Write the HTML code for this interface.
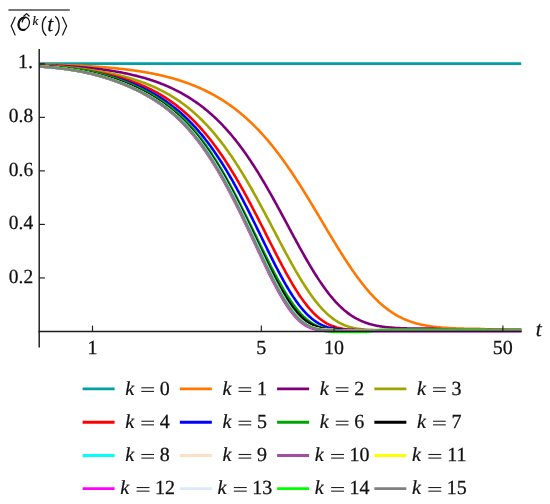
<!DOCTYPE html>
<html><head><meta charset="utf-8"><style>
html,body{margin:0;padding:0;background:#fff;}
svg{display:block;will-change:transform;}
text{font-family:"Liberation Serif",serif;font-size:20px;fill:#111;stroke:#111;stroke-width:0.25px;text-rendering:geometricPrecision;}
.it{font-style:italic;stroke:#111;stroke-width:0.22px;}
</style></head><body>
<svg width="550" height="504" viewBox="0 0 550 504">
<rect width="550" height="504" fill="#fff"/>
<g fill="none" stroke-width="2.6" stroke-linejoin="round" stroke-linecap="butt">
<path d="M39.6,63.6 L521.2,63.6" stroke="#00A0A4"/>
<path d="M39.6,64.54 L40.6,64.55 L41.6,64.57 L42.6,64.59 L43.6,64.61 L44.6,64.64 L45.6,64.66 L46.6,64.68 L47.6,64.70 L48.6,64.72 L49.6,64.75 L50.6,64.77 L51.6,64.80 L52.6,64.82 L53.6,64.85 L54.6,64.88 L55.6,64.90 L56.6,64.93 L57.6,64.96 L58.6,64.99 L59.6,65.02 L60.6,65.05 L61.6,65.08 L62.6,65.11 L63.6,65.14 L64.6,65.18 L65.6,65.21 L66.6,65.25 L67.6,65.28 L68.6,65.32 L69.6,65.36 L70.6,65.39 L71.6,65.43 L72.6,65.47 L73.6,65.51 L74.6,65.56 L75.6,65.60 L76.6,65.64 L77.6,65.69 L78.6,65.73 L79.6,65.78 L80.6,65.83 L81.6,65.87 L82.6,65.92 L83.6,65.97 L84.6,66.03 L85.6,66.08 L86.6,66.13 L87.6,66.19 L88.6,66.24 L89.6,66.30 L90.6,66.36 L91.6,66.42 L92.6,66.48 L93.6,66.54 L94.6,66.61 L95.6,66.67 L96.6,66.74 L97.6,66.81 L98.6,66.88 L99.6,66.95 L100.6,67.02 L101.6,67.09 L102.6,67.17 L103.6,67.25 L104.6,67.32 L105.6,67.40 L106.6,67.48 L107.6,67.57 L108.6,67.65 L109.6,67.74 L110.6,67.83 L111.6,67.92 L112.6,68.01 L113.6,68.10 L114.6,68.20 L115.6,68.30 L116.6,68.40 L117.6,68.50 L118.6,68.60 L119.6,68.71 L120.6,68.81 L121.6,68.92 L122.6,69.03 L123.6,69.15 L124.6,69.26 L125.6,69.38 L126.6,69.50 L127.6,69.63 L128.6,69.75 L129.6,69.88 L130.6,70.01 L131.6,70.14 L132.6,70.28 L133.6,70.42 L134.6,70.56 L135.6,70.70 L136.6,70.84 L137.6,70.99 L138.6,71.14 L139.6,71.30 L140.6,71.46 L141.6,71.62 L142.6,71.78 L143.6,71.94 L144.6,72.11 L145.6,72.29 L146.6,72.46 L147.6,72.64 L148.6,72.82 L149.6,73.01 L150.6,73.20 L151.6,73.39 L152.6,73.58 L153.6,73.78 L154.6,73.99 L155.6,74.19 L156.6,74.40 L157.6,74.62 L158.6,74.84 L159.6,75.06 L160.6,75.28 L161.6,75.51 L162.6,75.75 L163.6,75.99 L164.6,76.23 L165.6,76.47 L166.6,76.73 L167.6,76.98 L168.6,77.24 L169.6,77.51 L170.6,77.78 L171.6,78.05 L172.6,78.33 L173.6,78.61 L174.6,78.90 L175.6,79.19 L176.6,79.49 L177.6,79.80 L178.6,80.11 L179.6,80.42 L180.6,80.74 L181.6,81.07 L182.6,81.40 L183.6,81.73 L184.6,82.08 L185.6,82.42 L186.6,82.78 L187.6,83.14 L188.6,83.50 L189.6,83.88 L190.6,84.25 L191.6,84.64 L192.6,85.03 L193.6,85.43 L194.6,85.83 L195.6,86.24 L196.6,86.66 L197.6,87.08 L198.6,87.52 L199.6,87.95 L200.6,88.40 L201.6,88.85 L202.6,89.31 L203.6,89.78 L204.6,90.26 L205.6,90.74 L206.6,91.23 L207.6,91.73 L208.6,92.23 L209.6,92.75 L210.6,93.27 L211.6,93.80 L212.6,94.34 L213.6,94.89 L214.6,95.45 L215.6,96.01 L216.6,96.59 L217.6,97.17 L218.6,97.76 L219.6,98.36 L220.6,98.97 L221.6,99.59 L222.6,100.22 L223.6,100.86 L224.6,101.51 L225.6,102.17 L226.6,102.84 L227.6,103.52 L228.6,104.21 L229.6,104.91 L230.6,105.62 L231.6,106.34 L232.6,107.07 L233.6,107.81 L234.6,108.56 L235.6,109.32 L236.6,110.10 L237.6,110.88 L238.6,111.68 L239.6,112.49 L240.6,113.31 L241.6,114.14 L242.6,114.99 L243.6,115.84 L244.6,116.71 L245.6,117.59 L246.6,118.48 L247.6,119.38 L248.6,120.30 L249.6,121.23 L250.6,122.17 L251.6,123.13 L252.6,124.09 L253.6,125.08 L254.6,126.07 L255.6,127.08 L256.6,128.10 L257.6,129.13 L258.6,130.18 L259.6,131.24 L260.6,132.31 L261.6,133.40 L262.6,134.50 L263.6,135.61 L264.6,136.74 L265.6,137.89 L266.6,139.04 L267.6,140.21 L268.6,141.40 L269.6,142.59 L270.6,143.80 L271.6,145.03 L272.6,146.27 L273.6,147.52 L274.6,148.79 L275.6,150.07 L276.6,151.36 L277.6,152.67 L278.6,153.99 L279.6,155.32 L280.6,156.66 L281.6,158.02 L282.6,159.40 L283.6,160.78 L284.6,162.18 L285.6,163.59 L286.6,165.01 L287.6,166.45 L288.6,167.89 L289.6,169.35 L290.6,170.82 L291.6,172.31 L292.6,173.80 L293.6,175.30 L294.6,176.82 L295.6,178.35 L296.6,179.88 L297.6,181.43 L298.6,182.99 L299.6,184.55 L300.6,186.13 L301.6,187.71 L302.6,189.30 L303.6,190.91 L304.6,192.51 L305.6,194.13 L306.6,195.76 L307.6,197.39 L308.6,199.02 L309.6,200.67 L310.6,202.32 L311.6,203.97 L312.6,205.63 L313.6,207.29 L314.6,208.96 L315.6,210.63 L316.6,212.31 L317.6,213.99 L318.6,215.67 L319.6,217.35 L320.6,219.03 L321.6,220.71 L322.6,222.40 L323.6,224.08 L324.6,225.76 L325.6,227.44 L326.6,229.12 L327.6,230.80 L328.6,232.48 L329.6,234.15 L330.6,235.81 L331.6,237.48 L332.6,239.13 L333.6,240.79 L334.6,242.43 L335.6,244.07 L336.6,245.71 L337.6,247.33 L338.6,248.95 L339.6,250.56 L340.6,252.16 L341.6,253.74 L342.6,255.32 L343.6,256.89 L344.6,258.45 L345.6,259.99 L346.6,261.53 L347.6,263.05 L348.6,264.55 L349.6,266.05 L350.6,267.53 L351.6,268.99 L352.6,270.44 L353.6,271.87 L354.6,273.29 L355.6,274.69 L356.6,276.08 L357.6,277.45 L358.6,278.80 L359.6,280.13 L360.6,281.45 L361.6,282.74 L362.6,284.02 L363.6,285.28 L364.6,286.52 L365.6,287.74 L366.6,288.94 L367.6,290.12 L368.6,291.28 L369.6,292.42 L370.6,293.54 L371.6,294.64 L372.6,295.72 L373.6,296.78 L374.6,297.82 L375.6,298.83 L376.6,299.83 L377.6,300.80 L378.6,301.75 L379.6,302.68 L380.6,303.59 L381.6,304.48 L382.6,305.34 L383.6,306.19 L384.6,307.01 L385.6,307.81 L386.6,308.59 L387.6,309.35 L388.6,310.09 L389.6,310.81 L390.6,311.51 L391.6,312.18 L392.6,312.84 L393.6,313.48 L394.6,314.10 L395.6,314.70 L396.6,315.28 L397.6,315.84 L398.6,316.39 L399.6,316.91 L400.6,317.42 L401.6,317.91 L402.6,318.39 L403.6,318.84 L404.6,319.29 L405.6,319.71 L406.6,320.12 L407.6,320.52 L408.6,320.90 L409.6,321.27 L410.6,321.62 L411.6,321.96 L412.6,322.28 L413.6,322.59 L414.6,322.90 L415.6,323.18 L416.6,323.46 L417.6,323.73 L418.6,323.98 L419.6,324.22 L420.6,324.46 L421.6,324.68 L422.6,324.89 L423.6,325.10 L424.6,325.30 L425.6,325.48 L426.6,325.66 L427.6,325.83 L428.6,326.00 L429.6,326.15 L430.6,326.30 L431.6,326.44 L432.6,326.58 L433.6,326.71 L434.6,326.83 L435.6,326.95 L436.6,327.06 L437.6,327.17 L438.6,327.27 L439.6,327.37 L440.6,327.46 L441.6,327.55 L442.6,327.63 L443.6,327.71 L444.6,327.78 L445.6,327.86 L446.6,327.92 L447.6,327.99 L448.6,328.05 L449.6,328.11 L450.6,328.16 L451.6,328.22 L452.6,328.27 L453.6,328.31 L454.6,328.36 L455.6,328.40 L456.6,328.44 L457.6,328.48 L458.6,328.51 L459.6,328.55 L460.6,328.58 L461.6,328.61 L462.6,328.64 L463.6,328.66 L464.6,328.69 L465.6,328.71 L466.6,328.73 L467.6,328.75 L468.6,328.77 L469.6,328.79 L470.6,328.81 L471.6,328.82 L472.6,328.83 L473.6,328.85 L474.6,328.86 L475.6,328.87 L476.6,328.87 L477.6,328.88 L478.6,328.89 L479.6,328.89 L480.6,328.93 L481.6,328.99 L482.6,329.04 L483.6,329.09 L484.6,329.13 L485.6,329.18 L486.6,329.22 L487.6,329.26 L488.6,329.29 L489.6,329.33 L490.6,329.36 L491.6,329.39 L492.6,329.42 L493.6,329.45 L494.6,329.47 L495.6,329.50 L496.6,329.52 L497.6,329.54 L498.6,329.56 L499.6,329.58 L500.6,329.59 L501.6,329.61 L502.6,329.62 L503.6,329.64 L504.6,329.65 L505.6,329.66 L506.6,329.67 L507.6,329.68 L508.6,329.69 L509.6,329.70 L510.6,329.71 L511.6,329.72 L512.6,329.72 L513.6,329.73 L514.6,329.73 L515.6,329.74 L516.6,329.74 L517.6,329.75 L518.6,329.75 L519.6,329.76 L520.6,329.76 L521.4,329.76" stroke="#FF7600"/>
<path d="M39.6,64.90 L40.6,64.93 L41.6,64.97 L42.6,65.00 L43.6,65.04 L44.6,65.08 L45.6,65.11 L46.6,65.15 L47.6,65.19 L48.6,65.23 L49.6,65.27 L50.6,65.32 L51.6,65.36 L52.6,65.40 L53.6,65.45 L54.6,65.50 L55.6,65.54 L56.6,65.59 L57.6,65.64 L58.6,65.69 L59.6,65.75 L60.6,65.80 L61.6,65.86 L62.6,65.91 L63.6,65.97 L64.6,66.03 L65.6,66.09 L66.6,66.15 L67.6,66.22 L68.6,66.28 L69.6,66.35 L70.6,66.41 L71.6,66.48 L72.6,66.55 L73.6,66.63 L74.6,66.70 L75.6,66.78 L76.6,66.85 L77.6,66.93 L78.6,67.01 L79.6,67.09 L80.6,67.18 L81.6,67.26 L82.6,67.35 L83.6,67.44 L84.6,67.53 L85.6,67.63 L86.6,67.72 L87.6,67.82 L88.6,67.92 L89.6,68.02 L90.6,68.12 L91.6,68.23 L92.6,68.34 L93.6,68.45 L94.6,68.56 L95.6,68.67 L96.6,68.79 L97.6,68.91 L98.6,69.03 L99.6,69.15 L100.6,69.28 L101.6,69.41 L102.6,69.54 L103.6,69.67 L104.6,69.81 L105.6,69.95 L106.6,70.09 L107.6,70.24 L108.6,70.38 L109.6,70.53 L110.6,70.69 L111.6,70.84 L112.6,71.00 L113.6,71.17 L114.6,71.33 L115.6,71.50 L116.6,71.67 L117.6,71.85 L118.6,72.03 L119.6,72.21 L120.6,72.39 L121.6,72.58 L122.6,72.78 L123.6,72.97 L124.6,73.17 L125.6,73.38 L126.6,73.58 L127.6,73.79 L128.6,74.01 L129.6,74.23 L130.6,74.45 L131.6,74.68 L132.6,74.91 L133.6,75.15 L134.6,75.39 L135.6,75.63 L136.6,75.88 L137.6,76.14 L138.6,76.40 L139.6,76.66 L140.6,76.93 L141.6,77.20 L142.6,77.48 L143.6,77.76 L144.6,78.05 L145.6,78.35 L146.6,78.65 L147.6,78.95 L148.6,79.26 L149.6,79.58 L150.6,79.90 L151.6,80.22 L152.6,80.56 L153.6,80.90 L154.6,81.24 L155.6,81.59 L156.6,81.95 L157.6,82.31 L158.6,82.69 L159.6,83.06 L160.6,83.45 L161.6,83.84 L162.6,84.23 L163.6,84.64 L164.6,85.05 L165.6,85.47 L166.6,85.89 L167.6,86.32 L168.6,86.76 L169.6,87.21 L170.6,87.67 L171.6,88.13 L172.6,88.60 L173.6,89.08 L174.6,89.57 L175.6,90.07 L176.6,90.57 L177.6,91.08 L178.6,91.60 L179.6,92.13 L180.6,92.67 L181.6,93.22 L182.6,93.78 L183.6,94.35 L184.6,94.92 L185.6,95.51 L186.6,96.10 L187.6,96.71 L188.6,97.32 L189.6,97.95 L190.6,98.58 L191.6,99.23 L192.6,99.89 L193.6,100.55 L194.6,101.23 L195.6,101.92 L196.6,102.62 L197.6,103.33 L198.6,104.05 L199.6,104.79 L200.6,105.53 L201.6,106.29 L202.6,107.06 L203.6,107.84 L204.6,108.64 L205.6,109.44 L206.6,110.26 L207.6,111.10 L208.6,111.94 L209.6,112.80 L210.6,113.67 L211.6,114.55 L212.6,115.45 L213.6,116.36 L214.6,117.29 L215.6,118.23 L216.6,119.18 L217.6,120.15 L218.6,121.13 L219.6,122.13 L220.6,123.14 L221.6,124.17 L222.6,125.21 L223.6,126.27 L224.6,127.34 L225.6,128.43 L226.6,129.53 L227.6,130.65 L228.6,131.78 L229.6,132.93 L230.6,134.10 L231.6,135.28 L232.6,136.48 L233.6,137.70 L234.6,138.93 L235.6,140.18 L236.6,141.44 L237.6,142.73 L238.6,144.03 L239.6,145.34 L240.6,146.67 L241.6,148.02 L242.6,149.39 L243.6,150.77 L244.6,152.17 L245.6,153.58 L246.6,155.02 L247.6,156.46 L248.6,157.93 L249.6,159.41 L250.6,160.90 L251.6,162.42 L252.6,163.94 L253.6,165.49 L254.6,167.05 L255.6,168.62 L256.6,170.21 L257.6,171.81 L258.6,173.43 L259.6,175.07 L260.6,176.71 L261.6,178.37 L262.6,180.05 L263.6,181.74 L264.6,183.44 L265.6,185.15 L266.6,186.87 L267.6,188.61 L268.6,190.36 L269.6,192.12 L270.6,193.89 L271.6,195.66 L272.6,197.45 L273.6,199.25 L274.6,201.06 L275.6,202.87 L276.6,204.70 L277.6,206.53 L278.6,208.36 L279.6,210.20 L280.6,212.05 L281.6,213.90 L282.6,215.76 L283.6,217.62 L284.6,219.48 L285.6,221.35 L286.6,223.21 L287.6,225.08 L288.6,226.95 L289.6,228.81 L290.6,230.68 L291.6,232.54 L292.6,234.40 L293.6,236.26 L294.6,238.11 L295.6,239.96 L296.6,241.80 L297.6,243.64 L298.6,245.47 L299.6,247.29 L300.6,249.10 L301.6,250.90 L302.6,252.69 L303.6,254.48 L304.6,256.24 L305.6,258.00 L306.6,259.75 L307.6,261.48 L308.6,263.19 L309.6,264.89 L310.6,266.57 L311.6,268.24 L312.6,269.89 L313.6,271.52 L314.6,273.14 L315.6,274.73 L316.6,276.30 L317.6,277.86 L318.6,279.39 L319.6,280.90 L320.6,282.39 L321.6,283.85 L322.6,285.29 L323.6,286.71 L324.6,288.11 L325.6,289.48 L326.6,290.82 L327.6,292.14 L328.6,293.44 L329.6,294.70 L330.6,295.95 L331.6,297.16 L332.6,298.35 L333.6,299.52 L334.6,300.65 L335.6,301.76 L336.6,302.84 L337.6,303.89 L338.6,304.92 L339.6,305.91 L340.6,306.88 L341.6,307.82 L342.6,308.73 L343.6,309.62 L344.6,310.48 L345.6,311.30 L346.6,312.10 L347.6,312.88 L348.6,313.63 L349.6,314.35 L350.6,315.04 L351.6,315.71 L352.6,316.35 L353.6,316.97 L354.6,317.57 L355.6,318.14 L356.6,318.69 L357.6,319.21 L358.6,319.71 L359.6,320.19 L360.6,320.65 L361.6,321.09 L362.6,321.51 L363.6,321.91 L364.6,322.30 L365.6,322.66 L366.6,323.01 L367.6,323.34 L368.6,323.65 L369.6,323.95 L370.6,324.23 L371.6,324.50 L372.6,324.76 L373.6,325.00 L374.6,325.23 L375.6,325.45 L376.6,325.66 L377.6,325.85 L378.6,326.04 L379.6,326.21 L380.6,326.37 L381.6,326.53 L382.6,326.68 L383.6,326.81 L384.6,326.94 L385.6,327.07 L386.6,327.18 L387.6,327.29 L388.6,327.39 L389.6,327.49 L390.6,327.58 L391.6,327.66 L392.6,327.74 L393.6,327.82 L394.6,327.89 L395.6,327.95 L396.6,328.01 L397.6,328.07 L398.6,328.12 L399.6,328.17 L400.6,328.21 L401.6,328.25 L402.6,328.29 L403.6,328.32 L404.6,328.35 L405.6,328.38 L406.6,328.41 L407.6,328.43 L408.6,328.45 L409.6,328.46 L410.6,328.48 L411.6,328.49 L412.6,328.50 L413.6,328.50 L414.6,328.51 L415.6,328.51 L416.6,328.51 L417.6,328.51 L418.6,328.51 L419.6,328.51 L420.6,328.51 L421.6,328.51 L422.6,328.51 L423.6,328.51 L424.6,328.51 L425.6,328.51 L426.6,328.51 L427.6,328.51 L428.6,328.51 L429.6,328.51 L430.6,328.51 L431.6,328.57 L432.6,328.65 L433.6,328.73 L434.6,328.80 L435.6,328.87 L436.6,328.93 L437.6,328.99 L438.6,329.05 L439.6,329.10 L440.6,329.15 L441.6,329.20 L442.6,329.25 L443.6,329.29 L444.6,329.33 L445.6,329.37 L446.6,329.41 L447.6,329.44 L448.6,329.47 L449.6,329.50 L450.6,329.53 L451.6,329.56 L452.6,329.58 L453.6,329.61 L454.6,329.63 L455.6,329.65 L456.6,329.67 L457.6,329.69 L458.6,329.70 L459.6,329.72 L460.6,329.73 L461.6,329.75 L462.6,329.76 L463.6,329.77 L464.6,329.78 L465.6,329.79 L466.6,329.80 L467.6,329.81 L468.6,329.82 L469.6,329.82 L470.6,329.83 L471.6,329.84 L472.6,329.84 L473.6,329.85 L474.6,329.85 L475.6,329.86 L476.6,329.86 L477.6,329.86 L478.6,329.87 L479.6,329.87 L480.6,329.87 L481.6,329.88 L482.6,329.88 L483.6,329.88 L484.6,329.88 L485.6,329.88 L486.6,329.89 L487.6,329.89 L488.6,329.89 L489.6,329.89 L490.6,329.89 L491.6,329.89 L492.6,329.89 L493.6,329.89 L494.6,329.89 L495.6,329.89 L496.6,329.89 L497.6,329.89 L498.6,329.89 L499.6,329.90 L500.6,329.90 L501.6,329.90 L502.6,329.90 L503.6,329.90 L504.6,329.90 L505.6,329.90 L506.6,329.90 L507.6,329.90 L508.6,329.90 L509.6,329.90 L510.6,329.90 L511.6,329.90 L512.6,329.90 L513.6,329.90 L514.6,329.90 L515.6,329.90 L516.6,329.90 L517.6,329.90 L518.6,329.90 L519.6,329.90 L520.6,329.90 L521.4,329.90" stroke="#7D007A"/>
<path d="M39.6,65.17 L40.6,65.23 L41.6,65.28 L42.6,65.34 L43.6,65.40 L44.6,65.46 L45.6,65.52 L46.6,65.58 L47.6,65.65 L48.6,65.71 L49.6,65.78 L50.6,65.85 L51.6,65.92 L52.6,66.00 L53.6,66.07 L54.6,66.15 L55.6,66.22 L56.6,66.30 L57.6,66.39 L58.6,66.47 L59.6,66.55 L60.6,66.64 L61.6,66.73 L62.6,66.82 L63.6,66.91 L64.6,67.00 L65.6,67.10 L66.6,67.20 L67.6,67.30 L68.6,67.40 L69.6,67.50 L70.6,67.60 L71.6,67.71 L72.6,67.82 L73.6,67.93 L74.6,68.04 L75.6,68.15 L76.6,68.27 L77.6,68.39 L78.6,68.51 L79.6,68.63 L80.6,68.75 L81.6,68.88 L82.6,69.00 L83.6,69.13 L84.6,69.27 L85.6,69.40 L86.6,69.54 L87.6,69.67 L88.6,69.81 L89.6,69.96 L90.6,70.10 L91.6,70.25 L92.6,70.40 L93.6,70.55 L94.6,70.70 L95.6,70.86 L96.6,71.02 L97.6,71.18 L98.6,71.34 L99.6,71.51 L100.6,71.68 L101.6,71.85 L102.6,72.02 L103.6,72.20 L104.6,72.38 L105.6,72.57 L106.6,72.75 L107.6,72.94 L108.6,73.14 L109.6,73.33 L110.6,73.53 L111.6,73.74 L112.6,73.94 L113.6,74.15 L114.6,74.37 L115.6,74.59 L116.6,74.81 L117.6,75.04 L118.6,75.27 L119.6,75.51 L120.6,75.75 L121.6,75.99 L122.6,76.24 L123.6,76.50 L124.6,76.76 L125.6,77.02 L126.6,77.29 L127.6,77.57 L128.6,77.84 L129.6,78.13 L130.6,78.42 L131.6,78.72 L132.6,79.02 L133.6,79.32 L134.6,79.63 L135.6,79.95 L136.6,80.28 L137.6,80.61 L138.6,80.94 L139.6,81.28 L140.6,81.63 L141.6,81.99 L142.6,82.35 L143.6,82.72 L144.6,83.09 L145.6,83.47 L146.6,83.86 L147.6,84.26 L148.6,84.66 L149.6,85.07 L150.6,85.49 L151.6,85.91 L152.6,86.34 L153.6,86.78 L154.6,87.23 L155.6,87.69 L156.6,88.15 L157.6,88.62 L158.6,89.11 L159.6,89.59 L160.6,90.09 L161.6,90.60 L162.6,91.12 L163.6,91.64 L164.6,92.17 L165.6,92.72 L166.6,93.27 L167.6,93.83 L168.6,94.40 L169.6,94.99 L170.6,95.58 L171.6,96.18 L172.6,96.79 L173.6,97.42 L174.6,98.05 L175.6,98.70 L176.6,99.35 L177.6,100.02 L178.6,100.70 L179.6,101.39 L180.6,102.09 L181.6,102.80 L182.6,103.52 L183.6,104.26 L184.6,105.01 L185.6,105.77 L186.6,106.55 L187.6,107.33 L188.6,108.13 L189.6,108.94 L190.6,109.77 L191.6,110.61 L192.6,111.46 L193.6,112.33 L194.6,113.21 L195.6,114.10 L196.6,115.01 L197.6,115.93 L198.6,116.87 L199.6,117.82 L200.6,118.79 L201.6,119.77 L202.6,120.77 L203.6,121.78 L204.6,122.80 L205.6,123.84 L206.6,124.90 L207.6,125.97 L208.6,127.06 L209.6,128.16 L210.6,129.28 L211.6,130.42 L212.6,131.57 L213.6,132.74 L214.6,133.92 L215.6,135.12 L216.6,136.34 L217.6,137.57 L218.6,138.82 L219.6,140.08 L220.6,141.36 L221.6,142.66 L222.6,143.98 L223.6,145.31 L224.6,146.65 L225.6,148.02 L226.6,149.40 L227.6,150.80 L228.6,152.21 L229.6,153.64 L230.6,155.09 L231.6,156.55 L232.6,158.03 L233.6,159.52 L234.6,161.03 L235.6,162.56 L236.6,164.10 L237.6,165.66 L238.6,167.23 L239.6,168.82 L240.6,170.43 L241.6,172.05 L242.6,173.68 L243.6,175.33 L244.6,176.99 L245.6,178.67 L246.6,180.36 L247.6,182.06 L248.6,183.78 L249.6,185.51 L250.6,187.25 L251.6,189.01 L252.6,190.78 L253.6,192.56 L254.6,194.35 L255.6,196.15 L256.6,197.96 L257.6,199.78 L258.6,201.61 L259.6,203.45 L260.6,205.29 L261.6,207.15 L262.6,209.01 L263.6,210.88 L264.6,212.76 L265.6,214.64 L266.6,216.53 L267.6,218.42 L268.6,220.31 L269.6,222.21 L270.6,224.11 L271.6,226.02 L272.6,227.92 L273.6,229.83 L274.6,231.74 L275.6,233.64 L276.6,235.55 L277.6,237.45 L278.6,239.35 L279.6,241.25 L280.6,243.14 L281.6,245.03 L282.6,246.91 L283.6,248.79 L284.6,250.66 L285.6,252.53 L286.6,254.38 L287.6,256.23 L288.6,258.07 L289.6,259.89 L290.6,261.71 L291.6,263.51 L292.6,265.30 L293.6,267.08 L294.6,268.84 L295.6,270.59 L296.6,272.32 L297.6,274.03 L298.6,275.73 L299.6,277.41 L300.6,279.07 L301.6,280.71 L302.6,282.32 L303.6,283.92 L304.6,285.49 L305.6,287.05 L306.6,288.57 L307.6,290.08 L308.6,291.56 L309.6,293.01 L310.6,294.44 L311.6,295.84 L312.6,297.21 L313.6,298.56 L314.6,299.87 L315.6,301.16 L316.6,302.42 L317.6,303.65 L318.6,304.85 L319.6,306.02 L320.6,307.16 L321.6,308.26 L322.6,309.34 L323.6,310.39 L324.6,311.40 L325.6,312.38 L326.6,313.33 L327.6,314.25 L328.6,315.13 L329.6,315.99 L330.6,316.81 L331.6,317.60 L332.6,318.36 L333.6,319.09 L334.6,319.79 L335.6,320.46 L336.6,321.10 L337.6,321.71 L338.6,322.29 L339.6,322.85 L340.6,323.37 L341.6,323.87 L342.6,324.34 L343.6,324.79 L344.6,325.21 L345.6,325.60 L346.6,325.97 L347.6,326.32 L348.6,326.64 L349.6,326.95 L350.6,327.23 L351.6,327.49 L352.6,327.73 L353.6,327.96 L354.6,328.16 L355.6,328.36 L356.6,328.53 L357.6,328.69 L358.6,328.84 L359.6,328.98 L360.6,329.10 L361.6,329.21 L362.6,329.31 L363.6,329.40 L364.6,329.49 L365.6,329.56 L366.6,329.63 L367.6,329.69 L368.6,329.74 L369.6,329.79 L370.6,329.83 L371.6,329.87 L372.6,329.90 L373.6,329.93 L374.6,329.96 L375.6,329.98 L376.6,330.00 L377.6,330.02 L378.6,330.03 L379.6,330.04 L380.6,330.05 L381.6,330.06 L382.6,330.07 L383.6,330.08 L384.6,330.08 L385.6,330.09 L386.6,330.09 L387.6,330.10 L388.6,330.10 L389.6,330.10 L390.6,330.10 L391.6,330.11 L392.6,330.11 L393.6,330.11 L394.6,330.11 L395.6,330.11 L396.6,330.11 L397.6,330.11 L398.6,330.11 L399.6,330.11 L400.6,330.11 L401.6,330.11 L402.6,330.11 L403.6,330.11 L404.6,330.11 L405.6,330.11 L406.6,330.11 L407.6,330.11 L408.6,330.11 L409.6,330.11 L410.6,330.11 L411.6,330.11 L412.6,330.11 L413.6,330.11 L414.6,330.11 L415.6,330.11 L416.6,330.11 L417.6,330.11 L418.6,330.11 L419.6,330.11 L420.6,330.11 L421.6,330.11 L422.6,330.11 L423.6,330.11 L424.6,330.11 L425.6,330.11 L426.6,330.11 L427.6,330.11 L428.6,330.11 L429.6,330.11 L430.6,330.11 L431.6,330.11 L432.6,330.11 L433.6,330.11 L434.6,330.11 L435.6,330.11 L436.6,330.11 L437.6,330.11 L438.6,330.11 L439.6,330.11 L440.6,330.11 L441.6,330.11 L442.6,330.11 L443.6,330.11 L444.6,330.11 L445.6,330.11 L446.6,330.11 L447.6,330.11 L448.6,330.11 L449.6,330.11 L450.6,330.11 L451.6,330.11 L452.6,330.11 L453.6,330.11 L454.6,330.11 L455.6,330.11 L456.6,330.11 L457.6,330.11 L458.6,330.11 L459.6,330.11 L460.6,330.11 L461.6,330.11 L462.6,330.11 L463.6,330.11 L464.6,330.11 L465.6,330.11 L466.6,330.11 L467.6,330.11 L468.6,330.11 L469.6,330.11 L470.6,330.11 L471.6,330.11 L472.6,330.11 L473.6,330.11 L474.6,330.11 L475.6,330.11 L476.6,330.11 L477.6,330.11 L478.6,330.11 L479.6,330.11 L480.6,330.11 L481.6,330.11 L482.6,330.11 L483.6,330.11 L484.6,330.11 L485.6,330.11 L486.6,330.11 L487.6,330.11 L488.6,330.11 L489.6,330.11 L490.6,330.11 L491.6,330.11 L492.6,330.11 L493.6,330.11 L494.6,330.11 L495.6,330.11 L496.6,330.11 L497.6,330.11 L498.6,330.11 L499.6,330.11 L500.6,330.11 L501.6,330.11 L502.6,330.11 L503.6,330.11 L504.6,330.11 L505.6,330.11 L506.6,330.11 L507.6,330.11 L508.6,330.11 L509.6,330.11 L510.6,330.11 L511.6,330.11 L512.6,330.11 L513.6,330.11 L514.6,330.11 L515.6,330.11 L516.6,330.11 L517.6,330.11 L518.6,330.11 L519.6,330.11 L520.6,330.11 L521.4,330.11" stroke="#A0A300"/>
<path d="M39.6,65.47 L40.6,65.54 L41.6,65.61 L42.6,65.68 L43.6,65.75 L44.6,65.82 L45.6,65.89 L46.6,65.97 L47.6,66.05 L48.6,66.13 L49.6,66.21 L50.6,66.29 L51.6,66.38 L52.6,66.47 L53.6,66.56 L54.6,66.65 L55.6,66.74 L56.6,66.84 L57.6,66.93 L58.6,67.03 L59.6,67.13 L60.6,67.24 L61.6,67.34 L62.6,67.45 L63.6,67.56 L64.6,67.67 L65.6,67.78 L66.6,67.89 L67.6,68.01 L68.6,68.13 L69.6,68.25 L70.6,68.37 L71.6,68.49 L72.6,68.62 L73.6,68.75 L74.6,68.88 L75.6,69.01 L76.6,69.14 L77.6,69.28 L78.6,69.42 L79.6,69.56 L80.6,69.70 L81.6,69.85 L82.6,69.99 L83.6,70.14 L84.6,70.30 L85.6,70.45 L86.6,70.61 L87.6,70.77 L88.6,70.93 L89.6,71.09 L90.6,71.26 L91.6,71.43 L92.6,71.60 L93.6,71.77 L94.6,71.95 L95.6,72.13 L96.6,72.31 L97.6,72.50 L98.6,72.68 L99.6,72.88 L100.6,73.07 L101.6,73.27 L102.6,73.47 L103.6,73.68 L104.6,73.89 L105.6,74.10 L106.6,74.31 L107.6,74.54 L108.6,74.76 L109.6,74.99 L110.6,75.22 L111.6,75.46 L112.6,75.70 L113.6,75.95 L114.6,76.20 L115.6,76.46 L116.6,76.72 L117.6,76.99 L118.6,77.26 L119.6,77.54 L120.6,77.82 L121.6,78.11 L122.6,78.40 L123.6,78.70 L124.6,79.00 L125.6,79.32 L126.6,79.63 L127.6,79.95 L128.6,80.28 L129.6,80.62 L130.6,80.96 L131.6,81.31 L132.6,81.66 L133.6,82.02 L134.6,82.39 L135.6,82.77 L136.6,83.15 L137.6,83.54 L138.6,83.93 L139.6,84.33 L140.6,84.75 L141.6,85.16 L142.6,85.59 L143.6,86.02 L144.6,86.46 L145.6,86.91 L146.6,87.37 L147.6,87.84 L148.6,88.31 L149.6,88.80 L150.6,89.29 L151.6,89.79 L152.6,90.30 L153.6,90.82 L154.6,91.34 L155.6,91.88 L156.6,92.43 L157.6,92.99 L158.6,93.55 L159.6,94.13 L160.6,94.71 L161.6,95.31 L162.6,95.92 L163.6,96.53 L164.6,97.16 L165.6,97.80 L166.6,98.45 L167.6,99.11 L168.6,99.78 L169.6,100.47 L170.6,101.16 L171.6,101.87 L172.6,102.59 L173.6,103.32 L174.6,104.06 L175.6,104.81 L176.6,105.58 L177.6,106.36 L178.6,107.15 L179.6,107.95 L180.6,108.77 L181.6,109.60 L182.6,110.45 L183.6,111.30 L184.6,112.18 L185.6,113.06 L186.6,113.96 L187.6,114.87 L188.6,115.80 L189.6,116.74 L190.6,117.69 L191.6,118.66 L192.6,119.65 L193.6,120.65 L194.6,121.66 L195.6,122.69 L196.6,123.74 L197.6,124.80 L198.6,125.87 L199.6,126.96 L200.6,128.07 L201.6,129.19 L202.6,130.33 L203.6,131.48 L204.6,132.65 L205.6,133.84 L206.6,135.04 L207.6,136.26 L208.6,137.50 L209.6,138.75 L210.6,140.02 L211.6,141.31 L212.6,142.61 L213.6,143.93 L214.6,145.27 L215.6,146.62 L216.6,147.99 L217.6,149.38 L218.6,150.78 L219.6,152.20 L220.6,153.64 L221.6,155.10 L222.6,156.57 L223.6,158.06 L224.6,159.56 L225.6,161.09 L226.6,162.62 L227.6,164.18 L228.6,165.75 L229.6,167.34 L230.6,168.95 L231.6,170.57 L232.6,172.21 L233.6,173.86 L234.6,175.53 L235.6,177.21 L236.6,178.91 L237.6,180.63 L238.6,182.36 L239.6,184.11 L240.6,185.86 L241.6,187.64 L242.6,189.43 L243.6,191.23 L244.6,193.04 L245.6,194.87 L246.6,196.71 L247.6,198.56 L248.6,200.42 L249.6,202.29 L250.6,204.18 L251.6,206.07 L252.6,207.98 L253.6,209.89 L254.6,211.81 L255.6,213.75 L256.6,215.68 L257.6,217.63 L258.6,219.58 L259.6,221.54 L260.6,223.50 L261.6,225.47 L262.6,227.44 L263.6,229.42 L264.6,231.40 L265.6,233.38 L266.6,235.36 L267.6,237.34 L268.6,239.32 L269.6,241.30 L270.6,243.27 L271.6,245.25 L272.6,247.22 L273.6,249.18 L274.6,251.14 L275.6,253.09 L276.6,255.04 L277.6,256.97 L278.6,258.90 L279.6,260.82 L280.6,262.72 L281.6,264.62 L282.6,266.50 L283.6,268.36 L284.6,270.21 L285.6,272.05 L286.6,273.86 L287.6,275.66 L288.6,277.44 L289.6,279.20 L290.6,280.94 L291.6,282.65 L292.6,284.34 L293.6,286.01 L294.6,287.65 L295.6,289.27 L296.6,290.86 L297.6,292.42 L298.6,293.96 L299.6,295.46 L300.6,296.94 L301.6,298.38 L302.6,299.79 L303.6,301.17 L304.6,302.52 L305.6,303.83 L306.6,305.11 L307.6,306.36 L308.6,307.57 L309.6,308.75 L310.6,309.89 L311.6,310.99 L312.6,312.06 L313.6,313.09 L314.6,314.09 L315.6,315.05 L316.6,315.97 L317.6,316.86 L318.6,317.71 L319.6,318.53 L320.6,319.31 L321.6,320.06 L322.6,320.77 L323.6,321.45 L324.6,322.09 L325.6,322.70 L326.6,323.27 L327.6,323.81 L328.6,324.32 L329.6,324.80 L330.6,325.26 L331.6,325.68 L332.6,326.07 L333.6,326.44 L334.6,326.78 L335.6,327.10 L336.6,327.40 L337.6,327.67 L338.6,327.92 L339.6,328.16 L340.6,328.37 L341.6,328.56 L342.6,328.74 L343.6,328.91 L344.6,329.06 L345.6,329.19 L346.6,329.31 L347.6,329.42 L348.6,329.52 L349.6,329.61 L350.6,329.69 L351.6,329.76 L352.6,329.83 L353.6,329.88 L354.6,329.93 L355.6,329.98 L356.6,330.01 L357.6,330.05 L358.6,330.08 L359.6,330.10 L360.6,330.12 L361.6,330.14 L362.6,330.16 L363.6,330.17 L364.6,330.19 L365.6,330.20 L366.6,330.20 L367.6,330.21 L368.6,330.22 L369.6,330.22 L370.6,330.23 L371.6,330.23 L372.6,330.23 L373.6,330.24 L374.6,330.24 L375.6,330.24 L376.6,330.24 L377.6,330.24 L378.6,330.24 L379.6,330.24 L380.6,330.24 L381.6,330.24 L382.6,330.24 L383.6,330.25 L384.6,330.25 L385.6,330.25 L386.6,330.25 L387.6,330.25 L388.6,330.25 L389.6,330.25 L390.6,330.25 L391.6,330.25 L392.6,330.25 L393.6,330.25 L394.6,330.25 L395.6,330.25 L396.6,330.25 L397.6,330.25 L398.6,330.25 L399.6,330.25 L400.6,330.25 L401.6,330.25 L402.6,330.25 L403.6,330.25 L404.6,330.25 L405.6,330.25 L406.6,330.25 L407.6,330.25 L408.6,330.25 L409.6,330.25 L410.6,330.25 L411.6,330.25 L412.6,330.25 L413.6,330.25 L414.6,330.25 L415.6,330.25 L416.6,330.25 L417.6,330.25 L418.6,330.25 L419.6,330.25 L420.6,330.25 L421.6,330.25 L422.6,330.25 L423.6,330.25 L424.6,330.25 L425.6,330.25 L426.6,330.25 L427.6,330.25 L428.6,330.25 L429.6,330.25 L430.6,330.25 L431.6,330.25 L432.6,330.25 L433.6,330.25 L434.6,330.25 L435.6,330.25 L436.6,330.25 L437.6,330.25 L438.6,330.25 L439.6,330.25 L440.6,330.25 L441.6,330.25 L442.6,330.25 L443.6,330.25 L444.6,330.25 L445.6,330.25 L446.6,330.25 L447.6,330.25 L448.6,330.25 L449.6,330.25 L450.6,330.25 L451.6,330.25 L452.6,330.25 L453.6,330.25 L454.6,330.25 L455.6,330.25 L456.6,330.25 L457.6,330.25 L458.6,330.25 L459.6,330.25 L460.6,330.25 L461.6,330.25 L462.6,330.25 L463.6,330.25 L464.6,330.25 L465.6,330.25 L466.6,330.25 L467.6,330.25 L468.6,330.25 L469.6,330.25 L470.6,330.25 L471.6,330.25 L472.6,330.25 L473.6,330.25 L474.6,330.25 L475.6,330.25 L476.6,330.25 L477.6,330.25 L478.6,330.25 L479.6,330.25 L480.6,330.25 L481.6,330.25 L482.6,330.25 L483.6,330.25 L484.6,330.25 L485.6,330.25 L486.6,330.25 L487.6,330.25 L488.6,330.25 L489.6,330.25 L490.6,330.25 L491.6,330.25 L492.6,330.25 L493.6,330.25 L494.6,330.25 L495.6,330.25 L496.6,330.25 L497.6,330.25 L498.6,330.25 L499.6,330.25 L500.6,330.25 L501.6,330.25 L502.6,330.25 L503.6,330.25 L504.6,330.25 L505.6,330.25 L506.6,330.25 L507.6,330.25 L508.6,330.25 L509.6,330.25 L510.6,330.25 L511.6,330.25 L512.6,330.25 L513.6,330.25 L514.6,330.25 L515.6,330.25 L516.6,330.25 L517.6,330.25 L518.6,330.25 L519.6,330.25 L520.6,330.25 L521.4,330.25" stroke="#FF0000"/>
<path d="M39.6,65.78 L40.6,65.84 L41.6,65.91 L42.6,65.98 L43.6,66.05 L44.6,66.12 L45.6,66.20 L46.6,66.27 L47.6,66.35 L48.6,66.43 L49.6,66.52 L50.6,66.60 L51.6,66.69 L52.6,66.77 L53.6,66.86 L54.6,66.96 L55.6,67.05 L56.6,67.15 L57.6,67.25 L58.6,67.35 L59.6,67.45 L60.6,67.55 L61.6,67.66 L62.6,67.77 L63.6,67.88 L64.6,68.00 L65.6,68.11 L66.6,68.23 L67.6,68.35 L68.6,68.48 L69.6,68.60 L70.6,68.73 L71.6,68.86 L72.6,69.00 L73.6,69.13 L74.6,69.27 L75.6,69.42 L76.6,69.56 L77.6,69.71 L78.6,69.86 L79.6,70.01 L80.6,70.17 L81.6,70.32 L82.6,70.49 L83.6,70.65 L84.6,70.82 L85.6,70.99 L86.6,71.16 L87.6,71.34 L88.6,71.52 L89.6,71.70 L90.6,71.89 L91.6,72.08 L92.6,72.28 L93.6,72.47 L94.6,72.67 L95.6,72.88 L96.6,73.09 L97.6,73.30 L98.6,73.51 L99.6,73.73 L100.6,73.96 L101.6,74.18 L102.6,74.42 L103.6,74.65 L104.6,74.89 L105.6,75.14 L106.6,75.38 L107.6,75.64 L108.6,75.90 L109.6,76.16 L110.6,76.42 L111.6,76.70 L112.6,76.97 L113.6,77.26 L114.6,77.54 L115.6,77.83 L116.6,78.13 L117.6,78.43 L118.6,78.74 L119.6,79.06 L120.6,79.37 L121.6,79.70 L122.6,80.03 L123.6,80.36 L124.6,80.71 L125.6,81.05 L126.6,81.41 L127.6,81.77 L128.6,82.13 L129.6,82.51 L130.6,82.89 L131.6,83.27 L132.6,83.66 L133.6,84.06 L134.6,84.47 L135.6,84.88 L136.6,85.30 L137.6,85.73 L138.6,86.16 L139.6,86.60 L140.6,87.05 L141.6,87.51 L142.6,87.97 L143.6,88.45 L144.6,88.93 L145.6,89.42 L146.6,89.91 L147.6,90.42 L148.6,90.93 L149.6,91.46 L150.6,91.99 L151.6,92.53 L152.6,93.08 L153.6,93.64 L154.6,94.21 L155.6,94.78 L156.6,95.37 L157.6,95.97 L158.6,96.58 L159.6,97.19 L160.6,97.82 L161.6,98.46 L162.6,99.11 L163.6,99.77 L164.6,100.44 L165.6,101.12 L166.6,101.82 L167.6,102.52 L168.6,103.24 L169.6,103.97 L170.6,104.71 L171.6,105.46 L172.6,106.23 L173.6,107.01 L174.6,107.80 L175.6,108.60 L176.6,109.42 L177.6,110.25 L178.6,111.10 L179.6,111.96 L180.6,112.83 L181.6,113.72 L182.6,114.62 L183.6,115.53 L184.6,116.47 L185.6,117.41 L186.6,118.37 L187.6,119.35 L188.6,120.34 L189.6,121.35 L190.6,122.37 L191.6,123.41 L192.6,124.46 L193.6,125.53 L194.6,126.62 L195.6,127.72 L196.6,128.84 L197.6,129.98 L198.6,131.13 L199.6,132.31 L200.6,133.49 L201.6,134.70 L202.6,135.92 L203.6,137.16 L204.6,138.42 L205.6,139.70 L206.6,140.99 L207.6,142.30 L208.6,143.63 L209.6,144.98 L210.6,146.34 L211.6,147.73 L212.6,149.13 L213.6,150.55 L214.6,151.99 L215.6,153.44 L216.6,154.92 L217.6,156.41 L218.6,157.92 L219.6,159.45 L220.6,161.00 L221.6,162.57 L222.6,164.16 L223.6,165.76 L224.6,167.38 L225.6,169.02 L226.6,170.68 L227.6,172.35 L228.6,174.04 L229.6,175.75 L230.6,177.48 L231.6,179.22 L232.6,180.98 L233.6,182.76 L234.6,184.55 L235.6,186.36 L236.6,188.18 L237.6,190.02 L238.6,191.88 L239.6,193.75 L240.6,195.63 L241.6,197.53 L242.6,199.44 L243.6,201.36 L244.6,203.30 L245.6,205.25 L246.6,207.21 L247.6,209.18 L248.6,211.16 L249.6,213.15 L250.6,215.15 L251.6,217.16 L252.6,219.17 L253.6,221.20 L254.6,223.23 L255.6,225.26 L256.6,227.30 L257.6,229.35 L258.6,231.39 L259.6,233.44 L260.6,235.49 L261.6,237.55 L262.6,239.60 L263.6,241.65 L264.6,243.70 L265.6,245.74 L266.6,247.78 L267.6,249.82 L268.6,251.85 L269.6,253.87 L270.6,255.89 L271.6,257.89 L272.6,259.88 L273.6,261.87 L274.6,263.84 L275.6,265.79 L276.6,267.73 L277.6,269.66 L278.6,271.57 L279.6,273.46 L280.6,275.33 L281.6,277.18 L282.6,279.00 L283.6,280.81 L284.6,282.59 L285.6,284.34 L286.6,286.07 L287.6,287.77 L288.6,289.45 L289.6,291.09 L290.6,292.71 L291.6,294.29 L292.6,295.84 L293.6,297.36 L294.6,298.84 L295.6,300.29 L296.6,301.71 L297.6,303.09 L298.6,304.43 L299.6,305.74 L300.6,307.01 L301.6,308.24 L302.6,309.43 L303.6,310.59 L304.6,311.71 L305.6,312.78 L306.6,313.82 L307.6,314.82 L308.6,315.78 L309.6,316.70 L310.6,317.59 L311.6,318.43 L312.6,319.24 L313.6,320.01 L314.6,320.74 L315.6,321.44 L316.6,322.10 L317.6,322.72 L318.6,323.31 L319.6,323.87 L320.6,324.39 L321.6,324.88 L322.6,325.34 L323.6,325.76 L324.6,326.16 L325.6,326.53 L326.6,326.88 L327.6,327.20 L328.6,327.50 L329.6,327.77 L330.6,328.02 L331.6,328.25 L332.6,328.46 L333.6,328.65 L334.6,328.83 L335.6,328.99 L336.6,329.13 L337.6,329.26 L338.6,329.38 L339.6,329.49 L340.6,329.58 L341.6,329.67 L342.6,329.74 L343.6,329.81 L344.6,329.87 L345.6,329.92 L346.6,329.97 L347.6,330.01 L348.6,330.04 L349.6,330.07 L350.6,330.10 L351.6,330.12 L352.6,330.14 L353.6,330.16 L354.6,330.17 L355.6,330.19 L356.6,330.20 L357.6,330.21 L358.6,330.21 L359.6,330.22 L360.6,330.22 L361.6,330.23 L362.6,330.23 L363.6,330.23 L364.6,330.24 L365.6,330.24 L366.6,330.24 L367.6,330.24 L368.6,330.24 L369.6,330.24 L370.6,330.24 L371.6,330.24 L372.6,330.24 L373.6,330.24 L374.6,330.25 L375.6,330.25 L376.6,330.25 L377.6,330.25 L378.6,330.25 L379.6,330.25 L380.6,330.25 L381.6,330.25 L382.6,330.25 L383.6,330.25 L384.6,330.25 L385.6,330.25 L386.6,330.25 L387.6,330.25 L388.6,330.25 L389.6,330.25 L390.6,330.25 L391.6,330.25 L392.6,330.25 L393.6,330.25 L394.6,330.25 L395.6,330.25 L396.6,330.25 L397.6,330.25 L398.6,330.25 L399.6,330.25 L400.6,330.25 L401.6,330.25 L402.6,330.25 L403.6,330.25 L404.6,330.25 L405.6,330.25 L406.6,330.25 L407.6,330.25 L408.6,330.25 L409.6,330.25 L410.6,330.25 L411.6,330.25 L412.6,330.25 L413.6,330.25 L414.6,330.25 L415.6,330.25 L416.6,330.25 L417.6,330.25 L418.6,330.25 L419.6,330.25 L420.6,330.25 L421.6,330.25 L422.6,330.25 L423.6,330.25 L424.6,330.25 L425.6,330.25 L426.6,330.25 L427.6,330.25 L428.6,330.25 L429.6,330.25 L430.6,330.25 L431.6,330.25 L432.6,330.25 L433.6,330.25 L434.6,330.25 L435.6,330.25 L436.6,330.25 L437.6,330.25 L438.6,330.25 L439.6,330.25 L440.6,330.25 L441.6,330.25 L442.6,330.25 L443.6,330.25 L444.6,330.25 L445.6,330.25 L446.6,330.25 L447.6,330.25 L448.6,330.25 L449.6,330.25 L450.6,330.25 L451.6,330.25 L452.6,330.25 L453.6,330.25 L454.6,330.25 L455.6,330.25 L456.6,330.25 L457.6,330.25 L458.6,330.25 L459.6,330.25 L460.6,330.25 L461.6,330.25 L462.6,330.25 L463.6,330.25 L464.6,330.25 L465.6,330.25 L466.6,330.25 L467.6,330.25 L468.6,330.25 L469.6,330.25 L470.6,330.25 L471.6,330.25 L472.6,330.25 L473.6,330.25 L474.6,330.25 L475.6,330.25 L476.6,330.25 L477.6,330.25 L478.6,330.25 L479.6,330.25 L480.6,330.25 L481.6,330.25 L482.6,330.25 L483.6,330.25 L484.6,330.25 L485.6,330.25 L486.6,330.25 L487.6,330.25 L488.6,330.25 L489.6,330.25 L490.6,330.25 L491.6,330.25 L492.6,330.25 L493.6,330.25 L494.6,330.25 L495.6,330.25 L496.6,330.25 L497.6,330.25 L498.6,330.25 L499.6,330.25 L500.6,330.25 L501.6,330.25 L502.6,330.25 L503.6,330.25 L504.6,330.25 L505.6,330.25 L506.6,330.25 L507.6,330.25 L508.6,330.25 L509.6,330.25 L510.6,330.25 L511.6,330.25 L512.6,330.25 L513.6,330.25 L514.6,330.25 L515.6,330.25 L516.6,330.25 L517.6,330.25 L518.6,330.25 L519.6,330.25 L520.6,330.25 L521.4,330.25" stroke="#0000FF"/>
<path d="M39.6,65.99 L40.6,66.03 L41.6,66.07 L42.6,66.12 L43.6,66.17 L44.6,66.22 L45.6,66.27 L46.6,66.33 L47.6,66.38 L48.6,66.44 L49.6,66.50 L50.6,66.57 L51.6,66.63 L52.6,66.70 L53.6,66.77 L54.6,66.84 L55.6,66.91 L56.6,66.99 L57.6,67.07 L58.6,67.15 L59.6,67.24 L60.6,67.32 L61.6,67.41 L62.6,67.51 L63.6,67.60 L64.6,67.70 L65.6,67.81 L66.6,67.91 L67.6,68.02 L68.6,68.13 L69.6,68.25 L70.6,68.37 L71.6,68.49 L72.6,68.62 L73.6,68.75 L74.6,68.89 L75.6,69.03 L76.6,69.17 L77.6,69.32 L78.6,69.47 L79.6,69.62 L80.6,69.78 L81.6,69.95 L82.6,70.12 L83.6,70.29 L84.6,70.47 L85.6,70.65 L86.6,70.84 L87.6,71.04 L88.6,71.23 L89.6,71.44 L90.6,71.65 L91.6,71.86 L92.6,72.08 L93.6,72.30 L94.6,72.53 L95.6,72.77 L96.6,73.01 L97.6,73.25 L98.6,73.50 L99.6,73.76 L100.6,74.02 L101.6,74.28 L102.6,74.55 L103.6,74.83 L104.6,75.11 L105.6,75.40 L106.6,75.69 L107.6,75.98 L108.6,76.29 L109.6,76.59 L110.6,76.90 L111.6,77.22 L112.6,77.54 L113.6,77.86 L114.6,78.19 L115.6,78.53 L116.6,78.87 L117.6,79.22 L118.6,79.57 L119.6,79.92 L120.6,80.29 L121.6,80.65 L122.6,81.02 L123.6,81.40 L124.6,81.79 L125.6,82.18 L126.6,82.57 L127.6,82.97 L128.6,83.38 L129.6,83.79 L130.6,84.21 L131.6,84.63 L132.6,85.06 L133.6,85.50 L134.6,85.95 L135.6,86.39 L136.6,86.85 L137.6,87.31 L138.6,87.78 L139.6,88.26 L140.6,88.74 L141.6,89.24 L142.6,89.73 L143.6,90.24 L144.6,90.75 L145.6,91.27 L146.6,91.80 L147.6,92.34 L148.6,92.88 L149.6,93.44 L150.6,94.00 L151.6,94.57 L152.6,95.15 L153.6,95.74 L154.6,96.33 L155.6,96.94 L156.6,97.56 L157.6,98.18 L158.6,98.82 L159.6,99.47 L160.6,100.12 L161.6,100.79 L162.6,101.47 L163.6,102.16 L164.6,102.86 L165.6,103.58 L166.6,104.31 L167.6,105.05 L168.6,105.80 L169.6,106.56 L170.6,107.34 L171.6,108.13 L172.6,108.94 L173.6,109.76 L174.6,110.60 L175.6,111.45 L176.6,112.32 L177.6,113.20 L178.6,114.10 L179.6,115.02 L180.6,115.95 L181.6,116.90 L182.6,117.86 L183.6,118.85 L184.6,119.84 L185.6,120.86 L186.6,121.89 L187.6,122.95 L188.6,124.02 L189.6,125.10 L190.6,126.21 L191.6,127.33 L192.6,128.47 L193.6,129.63 L194.6,130.81 L195.6,132.01 L196.6,133.23 L197.6,134.47 L198.6,135.72 L199.6,137.00 L200.6,138.29 L201.6,139.60 L202.6,140.94 L203.6,142.29 L204.6,143.66 L205.6,145.06 L206.6,146.47 L207.6,147.90 L208.6,149.35 L209.6,150.82 L210.6,152.31 L211.6,153.82 L212.6,155.35 L213.6,156.90 L214.6,158.47 L215.6,160.06 L216.6,161.66 L217.6,163.29 L218.6,164.94 L219.6,166.60 L220.6,168.28 L221.6,169.98 L222.6,171.70 L223.6,173.43 L224.6,175.19 L225.6,176.96 L226.6,178.74 L227.6,180.54 L228.6,182.36 L229.6,184.20 L230.6,186.05 L231.6,187.91 L232.6,189.79 L233.6,191.68 L234.6,193.59 L235.6,195.51 L236.6,197.44 L237.6,199.38 L238.6,201.33 L239.6,203.29 L240.6,205.26 L241.6,207.25 L242.6,209.24 L243.6,211.23 L244.6,213.24 L245.6,215.25 L246.6,217.27 L247.6,219.29 L248.6,221.32 L249.6,223.35 L250.6,225.39 L251.6,227.43 L252.6,229.47 L253.6,231.51 L254.6,233.56 L255.6,235.60 L256.6,237.65 L257.6,239.70 L258.6,241.74 L259.6,243.78 L260.6,245.82 L261.6,247.85 L262.6,249.88 L263.6,251.91 L264.6,253.92 L265.6,255.93 L266.6,257.93 L267.6,259.92 L268.6,261.90 L269.6,263.87 L270.6,265.83 L271.6,267.77 L272.6,269.70 L273.6,271.61 L274.6,273.51 L275.6,275.39 L276.6,277.25 L277.6,279.09 L278.6,280.90 L279.6,282.70 L280.6,284.47 L281.6,286.22 L282.6,287.95 L283.6,289.64 L284.6,291.31 L285.6,292.96 L286.6,294.57 L287.6,296.15 L288.6,297.70 L289.6,299.22 L290.6,300.70 L291.6,302.15 L292.6,303.56 L293.6,304.94 L294.6,306.28 L295.6,307.58 L296.6,308.85 L297.6,310.08 L298.6,311.26 L299.6,312.41 L300.6,313.52 L301.6,314.59 L302.6,315.61 L303.6,316.60 L304.6,317.54 L305.6,318.45 L306.6,319.31 L307.6,320.13 L308.6,320.91 L309.6,321.65 L310.6,322.35 L311.6,323.01 L312.6,323.63 L313.6,324.20 L314.6,324.74 L315.6,325.25 L316.6,325.71 L317.6,326.15 L318.6,326.55 L319.6,326.92 L320.6,327.26 L321.6,327.57 L322.6,327.86 L323.6,328.12 L324.6,328.36 L325.6,328.58 L326.6,328.78 L327.6,328.95 L328.6,329.11 L329.6,329.26 L330.6,329.38 L331.6,329.50 L332.6,329.60 L333.6,329.69 L334.6,329.77 L335.6,329.84 L336.6,329.90 L337.6,329.95 L338.6,329.99 L339.6,330.03 L340.6,330.07 L341.6,330.10 L342.6,330.12 L343.6,330.14 L344.6,330.16 L345.6,330.18 L346.6,330.19 L347.6,330.20 L348.6,330.21 L349.6,330.22 L350.6,330.22 L351.6,330.23 L352.6,330.23 L353.6,330.23 L354.6,330.24 L355.6,330.24 L356.6,330.24 L357.6,330.24 L358.6,330.24 L359.6,330.24 L360.6,330.24 L361.6,330.24 L362.6,330.24 L363.6,330.25 L364.6,330.25 L365.6,330.25 L366.6,330.25 L367.6,330.25 L368.6,330.25 L369.6,330.25 L370.6,330.25 L371.6,330.25 L372.6,330.25 L373.6,330.25 L374.6,330.25 L375.6,330.25 L376.6,330.25 L377.6,330.25 L378.6,330.25 L379.6,330.25 L380.6,330.25 L381.6,330.25 L382.6,330.25 L383.6,330.25 L384.6,330.25 L385.6,330.25 L386.6,330.25 L387.6,330.25 L388.6,330.25 L389.6,330.25 L390.6,330.25 L391.6,330.25 L392.6,330.25 L393.6,330.25 L394.6,330.25 L395.6,330.25 L396.6,330.25 L397.6,330.25 L398.6,330.25 L399.6,330.25 L400.6,330.25 L401.6,330.25 L402.6,330.25 L403.6,330.25 L404.6,330.25 L405.6,330.25 L406.6,330.25 L407.6,330.25 L408.6,330.25 L409.6,330.25 L410.6,330.25 L411.6,330.25 L412.6,330.25 L413.6,330.25 L414.6,330.25 L415.6,330.25 L416.6,330.25 L417.6,330.25 L418.6,330.25 L419.6,330.25 L420.6,330.25 L421.6,330.25 L422.6,330.25 L423.6,330.25 L424.6,330.25 L425.6,330.25 L426.6,330.25 L427.6,330.25 L428.6,330.25 L429.6,330.25 L430.6,330.25 L431.6,330.25 L432.6,330.25 L433.6,330.25 L434.6,330.25 L435.6,330.25 L436.6,330.25 L437.6,330.25 L438.6,330.25 L439.6,330.25 L440.6,330.25 L441.6,330.25 L442.6,330.25 L443.6,330.25 L444.6,330.25 L445.6,330.25 L446.6,330.25 L447.6,330.25 L448.6,330.25 L449.6,330.25 L450.6,330.25 L451.6,330.25 L452.6,330.25 L453.6,330.25 L454.6,330.25 L455.6,330.25 L456.6,330.25 L457.6,330.25 L458.6,330.25 L459.6,330.25 L460.6,330.25 L461.6,330.25 L462.6,330.25 L463.6,330.25 L464.6,330.25 L465.6,330.25 L466.6,330.25 L467.6,330.25 L468.6,330.25 L469.6,330.25 L470.6,330.25 L471.6,330.25 L472.6,330.25 L473.6,330.25 L474.6,330.25 L475.6,330.25 L476.6,330.25 L477.6,330.25 L478.6,330.25 L479.6,330.25 L480.6,330.25 L481.6,330.25 L482.6,330.25 L483.6,330.25 L484.6,330.25 L485.6,330.25 L486.6,330.25 L487.6,330.25 L488.6,330.25 L489.6,330.25 L490.6,330.25 L491.6,330.25 L492.6,330.25 L493.6,330.25 L494.6,330.25 L495.6,330.25 L496.6,330.25 L497.6,330.25 L498.6,330.25 L499.6,330.25 L500.6,330.25 L501.6,330.25 L502.6,330.25 L503.6,330.25 L504.6,330.25 L505.6,330.25 L506.6,330.25 L507.6,330.25 L508.6,330.25 L509.6,330.25 L510.6,330.25 L511.6,330.25 L512.6,330.25 L513.6,330.25 L514.6,330.25 L515.6,330.25 L516.6,330.25 L517.6,330.25 L518.6,330.25 L519.6,330.25 L520.6,330.25 L521.4,330.25" stroke="#00A300"/>
<path d="M39.6,66.18 L40.6,66.24 L41.6,66.31 L42.6,66.38 L43.6,66.45 L44.6,66.52 L45.6,66.60 L46.6,66.67 L47.6,66.75 L48.6,66.83 L49.6,66.91 L50.6,67.00 L51.6,67.09 L52.6,67.18 L53.6,67.27 L54.6,67.36 L55.6,67.46 L56.6,67.56 L57.6,67.66 L58.6,67.76 L59.6,67.87 L60.6,67.98 L61.6,68.09 L62.6,68.21 L63.6,68.33 L64.6,68.45 L65.6,68.57 L66.6,68.70 L67.6,68.83 L68.6,68.96 L69.6,69.10 L70.6,69.24 L71.6,69.39 L72.6,69.53 L73.6,69.68 L74.6,69.84 L75.6,69.99 L76.6,70.15 L77.6,70.32 L78.6,70.49 L79.6,70.66 L80.6,70.84 L81.6,71.02 L82.6,71.20 L83.6,71.39 L84.6,71.58 L85.6,71.78 L86.6,71.98 L87.6,72.18 L88.6,72.39 L89.6,72.60 L90.6,72.82 L91.6,73.04 L92.6,73.27 L93.6,73.50 L94.6,73.74 L95.6,73.98 L96.6,74.22 L97.6,74.47 L98.6,74.72 L99.6,74.98 L100.6,75.25 L101.6,75.51 L102.6,75.79 L103.6,76.06 L104.6,76.35 L105.6,76.63 L106.6,76.93 L107.6,77.22 L108.6,77.52 L109.6,77.83 L110.6,78.14 L111.6,78.46 L112.6,78.78 L113.6,79.11 L114.6,79.44 L115.6,79.78 L116.6,80.12 L117.6,80.47 L118.6,80.82 L119.6,81.18 L120.6,81.54 L121.6,81.92 L122.6,82.29 L123.6,82.67 L124.6,83.06 L125.6,83.46 L126.6,83.86 L127.6,84.26 L128.6,84.68 L129.6,85.10 L130.6,85.52 L131.6,85.95 L132.6,86.39 L133.6,86.84 L134.6,87.29 L135.6,87.75 L136.6,88.22 L137.6,88.69 L138.6,89.17 L139.6,89.66 L140.6,90.16 L141.6,90.66 L142.6,91.17 L143.6,91.69 L144.6,92.22 L145.6,92.76 L146.6,93.30 L147.6,93.85 L148.6,94.41 L149.6,94.99 L150.6,95.56 L151.6,96.15 L152.6,96.75 L153.6,97.36 L154.6,97.98 L155.6,98.60 L156.6,99.24 L157.6,99.89 L158.6,100.54 L159.6,101.21 L160.6,101.89 L161.6,102.58 L162.6,103.28 L163.6,104.00 L164.6,104.72 L165.6,105.46 L166.6,106.21 L167.6,106.97 L168.6,107.74 L169.6,108.53 L170.6,109.33 L171.6,110.14 L172.6,110.97 L173.6,111.81 L174.6,112.67 L175.6,113.54 L176.6,114.42 L177.6,115.32 L178.6,116.24 L179.6,117.17 L180.6,118.12 L181.6,119.08 L182.6,120.05 L183.6,121.05 L184.6,122.06 L185.6,123.08 L186.6,124.12 L187.6,125.18 L188.6,126.26 L189.6,127.35 L190.6,128.46 L191.6,129.59 L192.6,130.73 L193.6,131.89 L194.6,133.07 L195.6,134.27 L196.6,135.49 L197.6,136.72 L198.6,137.97 L199.6,139.25 L200.6,140.54 L201.6,141.85 L202.6,143.17 L203.6,144.52 L204.6,145.89 L205.6,147.27 L206.6,148.67 L207.6,150.10 L208.6,151.54 L209.6,153.00 L210.6,154.48 L211.6,155.98 L212.6,157.50 L213.6,159.04 L214.6,160.60 L215.6,162.18 L216.6,163.78 L217.6,165.40 L218.6,167.03 L219.6,168.69 L220.6,170.36 L221.6,172.05 L222.6,173.76 L223.6,175.49 L224.6,177.24 L225.6,179.01 L226.6,180.79 L227.6,182.60 L228.6,184.42 L229.6,186.25 L230.6,188.10 L231.6,189.97 L232.6,191.86 L233.6,193.76 L234.6,195.68 L235.6,197.61 L236.6,199.55 L237.6,201.51 L238.6,203.49 L239.6,205.47 L240.6,207.47 L241.6,209.48 L242.6,211.50 L243.6,213.53 L244.6,215.58 L245.6,217.63 L246.6,219.69 L247.6,221.75 L248.6,223.83 L249.6,225.91 L250.6,228.00 L251.6,230.09 L252.6,232.18 L253.6,234.28 L254.6,236.38 L255.6,238.49 L256.6,240.59 L257.6,242.69 L258.6,244.79 L259.6,246.89 L260.6,248.99 L261.6,251.08 L262.6,253.16 L263.6,255.24 L264.6,257.31 L265.6,259.37 L266.6,261.42 L267.6,263.45 L268.6,265.48 L269.6,267.49 L270.6,269.48 L271.6,271.46 L272.6,273.42 L273.6,275.36 L274.6,277.28 L275.6,279.17 L276.6,281.05 L277.6,282.90 L278.6,284.72 L279.6,286.52 L280.6,288.29 L281.6,290.03 L282.6,291.73 L283.6,293.41 L284.6,295.05 L285.6,296.66 L286.6,298.24 L287.6,299.78 L288.6,301.28 L289.6,302.74 L290.6,304.17 L291.6,305.55 L292.6,306.90 L293.6,308.20 L294.6,309.47 L295.6,310.69 L296.6,311.87 L297.6,313.01 L298.6,314.10 L299.6,315.15 L300.6,316.16 L301.6,317.13 L302.6,318.05 L303.6,318.93 L304.6,319.77 L305.6,320.57 L306.6,321.33 L307.6,322.04 L308.6,322.71 L309.6,323.34 L310.6,323.93 L311.6,324.49 L312.6,325.00 L313.6,325.49 L314.6,325.93 L315.6,326.35 L316.6,326.73 L317.6,327.09 L318.6,327.41 L319.6,327.71 L320.6,327.99 L321.6,328.23 L322.6,328.46 L323.6,328.67 L324.6,328.85 L325.6,329.02 L326.6,329.17 L327.6,329.31 L328.6,329.43 L329.6,329.54 L330.6,329.63 L331.6,329.72 L332.6,329.79 L333.6,329.86 L334.6,329.92 L335.6,329.97 L336.6,330.01 L337.6,330.05 L338.6,330.08 L339.6,330.11 L340.6,330.13 L341.6,330.15 L342.6,330.17 L343.6,330.18 L344.6,330.19 L345.6,330.20 L346.6,330.21 L347.6,330.22 L348.6,330.22 L349.6,330.23 L350.6,330.23 L351.6,330.23 L352.6,330.24 L353.6,330.24 L354.6,330.24 L355.6,330.24 L356.6,330.24 L357.6,330.24 L358.6,330.24 L359.6,330.24 L360.6,330.24 L361.6,330.25 L362.6,330.25 L363.6,330.25 L364.6,330.25 L365.6,330.25 L366.6,330.25 L367.6,330.25 L368.6,330.25 L369.6,330.25 L370.6,330.25 L371.6,330.25 L372.6,330.25 L373.6,330.25 L374.6,330.25 L375.6,330.25 L376.6,330.25 L377.6,330.25 L378.6,330.25 L379.6,330.25 L380.6,330.25 L381.6,330.25 L382.6,330.25 L383.6,330.25 L384.6,330.25 L385.6,330.25 L386.6,330.25 L387.6,330.25 L388.6,330.25 L389.6,330.25 L390.6,330.25 L391.6,330.25 L392.6,330.25 L393.6,330.25 L394.6,330.25 L395.6,330.25 L396.6,330.25 L397.6,330.25 L398.6,330.25 L399.6,330.25 L400.6,330.25 L401.6,330.25 L402.6,330.25 L403.6,330.25 L404.6,330.25 L405.6,330.25 L406.6,330.25 L407.6,330.25 L408.6,330.25 L409.6,330.25 L410.6,330.25 L411.6,330.25 L412.6,330.25 L413.6,330.25 L414.6,330.25 L415.6,330.25 L416.6,330.25 L417.6,330.25 L418.6,330.25 L419.6,330.25 L420.6,330.25 L421.6,330.25 L422.6,330.25 L423.6,330.25 L424.6,330.25 L425.6,330.25 L426.6,330.25 L427.6,330.25 L428.6,330.25 L429.6,330.25 L430.6,330.25 L431.6,330.25 L432.6,330.25 L433.6,330.25 L434.6,330.25 L435.6,330.25 L436.6,330.25 L437.6,330.25 L438.6,330.25 L439.6,330.25 L440.6,330.25 L441.6,330.25 L442.6,330.25 L443.6,330.25 L444.6,330.25 L445.6,330.25 L446.6,330.25 L447.6,330.25 L448.6,330.25 L449.6,330.25 L450.6,330.25 L451.6,330.25 L452.6,330.25 L453.6,330.25 L454.6,330.25 L455.6,330.25 L456.6,330.25 L457.6,330.25 L458.6,330.25 L459.6,330.25 L460.6,330.25 L461.6,330.25 L462.6,330.25 L463.6,330.25 L464.6,330.25 L465.6,330.25 L466.6,330.25 L467.6,330.25 L468.6,330.25 L469.6,330.25 L470.6,330.25 L471.6,330.25 L472.6,330.25 L473.6,330.25 L474.6,330.25 L475.6,330.25 L476.6,330.25 L477.6,330.25 L478.6,330.25 L479.6,330.25 L480.6,330.25 L481.6,330.25 L482.6,330.25 L483.6,330.25 L484.6,330.25 L485.6,330.25 L486.6,330.25 L487.6,330.25 L488.6,330.25 L489.6,330.25 L490.6,330.25 L491.6,330.25 L492.6,330.25 L493.6,330.25 L494.6,330.25 L495.6,330.25 L496.6,330.25 L497.6,330.25 L498.6,330.25 L499.6,330.25 L500.6,330.25 L501.6,330.25 L502.6,330.25 L503.6,330.25 L504.6,330.25 L505.6,330.25 L506.6,330.25 L507.6,330.25 L508.6,330.25 L509.6,330.25 L510.6,330.25 L511.6,330.25 L512.6,330.25 L513.6,330.25 L514.6,330.25 L515.6,330.25 L516.6,330.25 L517.6,330.25 L518.6,330.25 L519.6,330.25 L520.6,330.25 L521.4,330.25" stroke="#000000"/>
<path d="M39.6,66.41 L40.6,66.47 L41.6,66.54 L42.6,66.61 L43.6,66.68 L44.6,66.75 L45.6,66.82 L46.6,66.90 L47.6,66.98 L48.6,67.06 L49.6,67.14 L50.6,67.23 L51.6,67.31 L52.6,67.40 L53.6,67.50 L54.6,67.59 L55.6,67.69 L56.6,67.79 L57.6,67.89 L58.6,68.00 L59.6,68.11 L60.6,68.22 L61.6,68.34 L62.6,68.45 L63.6,68.58 L64.6,68.70 L65.6,68.83 L66.6,68.96 L67.6,69.10 L68.6,69.23 L69.6,69.38 L70.6,69.52 L71.6,69.67 L72.6,69.82 L73.6,69.98 L74.6,70.14 L75.6,70.31 L76.6,70.47 L77.6,70.65 L78.6,70.82 L79.6,71.00 L80.6,71.19 L81.6,71.38 L82.6,71.57 L83.6,71.77 L84.6,71.98 L85.6,72.18 L86.6,72.39 L87.6,72.61 L88.6,72.83 L89.6,73.06 L90.6,73.29 L91.6,73.52 L92.6,73.76 L93.6,74.01 L94.6,74.26 L95.6,74.51 L96.6,74.77 L97.6,75.04 L98.6,75.31 L99.6,75.58 L100.6,75.86 L101.6,76.14 L102.6,76.43 L103.6,76.72 L104.6,77.02 L105.6,77.33 L106.6,77.63 L107.6,77.94 L108.6,78.26 L109.6,78.58 L110.6,78.91 L111.6,79.24 L112.6,79.58 L113.6,79.92 L114.6,80.26 L115.6,80.61 L116.6,80.97 L117.6,81.33 L118.6,81.70 L119.6,82.07 L120.6,82.44 L121.6,82.83 L122.6,83.21 L123.6,83.61 L124.6,84.00 L125.6,84.41 L126.6,84.82 L127.6,85.23 L128.6,85.65 L129.6,86.08 L130.6,86.52 L131.6,86.96 L132.6,87.40 L133.6,87.85 L134.6,88.31 L135.6,88.78 L136.6,89.25 L137.6,89.73 L138.6,90.21 L139.6,90.71 L140.6,91.21 L141.6,91.71 L142.6,92.23 L143.6,92.75 L144.6,93.28 L145.6,93.82 L146.6,94.36 L147.6,94.92 L148.6,95.48 L149.6,96.05 L150.6,96.63 L151.6,97.22 L152.6,97.81 L153.6,98.42 L154.6,99.04 L155.6,99.66 L156.6,100.30 L157.6,100.95 L158.6,101.60 L159.6,102.27 L160.6,102.95 L161.6,103.64 L162.6,104.34 L163.6,105.05 L164.6,105.77 L165.6,106.51 L166.6,107.26 L167.6,108.02 L168.6,108.79 L169.6,109.58 L170.6,110.38 L171.6,111.20 L172.6,112.03 L173.6,112.87 L174.6,113.73 L175.6,114.60 L176.6,115.49 L177.6,116.40 L178.6,117.32 L179.6,118.26 L180.6,119.21 L181.6,120.18 L182.6,121.16 L183.6,122.16 L184.6,123.18 L185.6,124.22 L186.6,125.27 L187.6,126.34 L188.6,127.43 L189.6,128.53 L190.6,129.65 L191.6,130.79 L192.6,131.95 L193.6,133.13 L194.6,134.33 L195.6,135.54 L196.6,136.77 L197.6,138.02 L198.6,139.30 L199.6,140.58 L200.6,141.89 L201.6,143.22 L202.6,144.57 L203.6,145.94 L204.6,147.32 L205.6,148.73 L206.6,150.16 L207.6,151.60 L208.6,153.07 L209.6,154.55 L210.6,156.06 L211.6,157.58 L212.6,159.13 L213.6,160.69 L214.6,162.28 L215.6,163.88 L216.6,165.50 L217.6,167.15 L218.6,168.81 L219.6,170.49 L220.6,172.19 L221.6,173.91 L222.6,175.64 L223.6,177.40 L224.6,179.17 L225.6,180.96 L226.6,182.77 L227.6,184.60 L228.6,186.44 L229.6,188.30 L230.6,190.17 L231.6,192.06 L232.6,193.97 L233.6,195.89 L234.6,197.83 L235.6,199.78 L236.6,201.74 L237.6,203.71 L238.6,205.70 L239.6,207.70 L240.6,209.71 L241.6,211.73 L242.6,213.77 L243.6,215.81 L244.6,217.86 L245.6,219.93 L246.6,222.00 L247.6,224.08 L248.6,226.16 L249.6,228.26 L250.6,230.36 L251.6,232.46 L252.6,234.57 L253.6,236.69 L254.6,238.81 L255.6,240.93 L256.6,243.05 L257.6,245.17 L258.6,247.29 L259.6,249.41 L260.6,251.53 L261.6,253.65 L262.6,255.76 L263.6,257.86 L264.6,259.96 L265.6,262.05 L266.6,264.13 L267.6,266.20 L268.6,268.26 L269.6,270.31 L270.6,272.34 L271.6,274.36 L272.6,276.35 L273.6,278.33 L274.6,280.29 L275.6,282.23 L276.6,284.14 L277.6,286.03 L278.6,287.89 L279.6,289.73 L280.6,291.53 L281.6,293.31 L282.6,295.05 L283.6,296.75 L284.6,298.43 L285.6,300.06 L286.6,301.66 L287.6,303.22 L288.6,304.73 L289.6,306.21 L290.6,307.64 L291.6,309.03 L292.6,310.37 L293.6,311.66 L294.6,312.91 L295.6,314.11 L296.6,315.27 L297.6,316.37 L298.6,317.43 L299.6,318.43 L300.6,319.39 L301.6,320.29 L302.6,321.15 L303.6,321.96 L304.6,322.71 L305.6,323.42 L306.6,324.07 L307.6,324.68 L308.6,325.24 L309.6,325.76 L310.6,326.23 L311.6,326.67 L312.6,327.07 L313.6,327.43 L314.6,327.76 L315.6,328.06 L316.6,328.33 L317.6,328.58 L318.6,328.79 L319.6,328.99 L320.6,329.16 L321.6,329.31 L322.6,329.45 L323.6,329.56 L324.6,329.67 L325.6,329.76 L326.6,329.83 L327.6,329.90 L328.6,329.96 L329.6,330.01 L330.6,330.05 L331.6,330.09 L332.6,330.11 L333.6,330.14 L334.6,330.16 L335.6,330.18 L336.6,330.19 L337.6,330.20 L338.6,330.21 L339.6,330.22 L340.6,330.23 L341.6,330.23 L342.6,330.23 L343.6,330.24 L344.6,330.24 L345.6,330.24 L346.6,330.24 L347.6,330.24 L348.6,330.24 L349.6,330.24 L350.6,330.24 L351.6,330.25 L352.6,330.25 L353.6,330.25 L354.6,330.25 L355.6,330.25 L356.6,330.25 L357.6,330.25 L358.6,330.25 L359.6,330.25 L360.6,330.25 L361.6,330.25 L362.6,330.25 L363.6,330.25 L364.6,330.25 L365.6,330.25 L366.6,330.25 L367.6,330.25 L368.6,330.25 L369.6,330.25 L370.6,330.25 L371.6,330.25 L372.6,330.25 L373.6,330.25 L374.6,330.25 L375.6,330.25 L376.6,330.25 L377.6,330.25 L378.6,330.25 L379.6,330.25 L380.6,330.25 L381.6,330.25 L382.6,330.25 L383.6,330.25 L384.6,330.25 L385.6,330.25 L386.6,330.25 L387.6,330.25 L388.6,330.25 L389.6,330.25 L390.6,330.25 L391.6,330.25 L392.6,330.25 L393.6,330.25 L394.6,330.25 L395.6,330.25 L396.6,330.25 L397.6,330.25 L398.6,330.25 L399.6,330.25 L400.6,330.25 L401.6,330.25 L402.6,330.25 L403.6,330.25 L404.6,330.25 L405.6,330.25 L406.6,330.25 L407.6,330.25 L408.6,330.25 L409.6,330.25 L410.6,330.25 L411.6,330.25 L412.6,330.25 L413.6,330.25 L414.6,330.25 L415.6,330.25 L416.6,330.25 L417.6,330.25 L418.6,330.25 L419.6,330.25 L420.6,330.25 L421.6,330.25 L422.6,330.25 L423.6,330.25 L424.6,330.25 L425.6,330.25 L426.6,330.25 L427.6,330.25 L428.6,330.25 L429.6,330.25 L430.6,330.25 L431.6,330.25 L432.6,330.25 L433.6,330.25 L434.6,330.25 L435.6,330.25 L436.6,330.25 L437.6,330.25 L438.6,330.25 L439.6,330.25 L440.6,330.25 L441.6,330.25 L442.6,330.25 L443.6,330.25 L444.6,330.25 L445.6,330.25 L446.6,330.25 L447.6,330.25 L448.6,330.25 L449.6,330.25 L450.6,330.25 L451.6,330.25 L452.6,330.25 L453.6,330.25 L454.6,330.25 L455.6,330.25 L456.6,330.25 L457.6,330.25 L458.6,330.25 L459.6,330.25 L460.6,330.25 L461.6,330.25 L462.6,330.25 L463.6,330.25 L464.6,330.25 L465.6,330.25 L466.6,330.25 L467.6,330.25 L468.6,330.25 L469.6,330.25 L470.6,330.25 L471.6,330.25 L472.6,330.25 L473.6,330.25 L474.6,330.25 L475.6,330.25 L476.6,330.25 L477.6,330.25 L478.6,330.25 L479.6,330.25 L480.6,330.25 L481.6,330.25 L482.6,330.25 L483.6,330.25 L484.6,330.25 L485.6,330.25 L486.6,330.25 L487.6,330.25 L488.6,330.25 L489.6,330.25 L490.6,330.25 L491.6,330.25 L492.6,330.25 L493.6,330.25 L494.6,330.25 L495.6,330.25 L496.6,330.25 L497.6,330.25 L498.6,330.25 L499.6,330.25 L500.6,330.25 L501.6,330.25 L502.6,330.25 L503.6,330.25 L504.6,330.25 L505.6,330.25 L506.6,330.25 L507.6,330.25 L508.6,330.25 L509.6,330.25 L510.6,330.25 L511.6,330.25 L512.6,330.25 L513.6,330.25 L514.6,330.25 L515.6,330.25 L516.6,330.25 L517.6,330.25 L518.6,330.25 L519.6,330.25 L520.6,330.25 L521.4,330.25" stroke="#00FFFF"/>
<path d="M39.6,66.45 L40.6,66.52 L41.6,66.58 L42.6,66.65 L43.6,66.73 L44.6,66.80 L45.6,66.87 L46.6,66.95 L47.6,67.03 L48.6,67.11 L49.6,67.20 L50.6,67.29 L51.6,67.38 L52.6,67.47 L53.6,67.56 L54.6,67.66 L55.6,67.76 L56.6,67.86 L57.6,67.97 L58.6,68.08 L59.6,68.19 L60.6,68.30 L61.6,68.42 L62.6,68.54 L63.6,68.66 L64.6,68.79 L65.6,68.92 L66.6,69.05 L67.6,69.19 L68.6,69.33 L69.6,69.48 L70.6,69.63 L71.6,69.78 L72.6,69.93 L73.6,70.09 L74.6,70.26 L75.6,70.42 L76.6,70.59 L77.6,70.77 L78.6,70.95 L79.6,71.13 L80.6,71.32 L81.6,71.52 L82.6,71.71 L83.6,71.91 L84.6,72.12 L85.6,72.33 L86.6,72.55 L87.6,72.77 L88.6,72.99 L89.6,73.22 L90.6,73.45 L91.6,73.69 L92.6,73.94 L93.6,74.18 L94.6,74.44 L95.6,74.69 L96.6,74.96 L97.6,75.23 L98.6,75.50 L99.6,75.78 L100.6,76.06 L101.6,76.34 L102.6,76.64 L103.6,76.93 L104.6,77.23 L105.6,77.54 L106.6,77.85 L107.6,78.17 L108.6,78.49 L109.6,78.81 L110.6,79.14 L111.6,79.47 L112.6,79.81 L113.6,80.16 L114.6,80.51 L115.6,80.86 L116.6,81.22 L117.6,81.59 L118.6,81.96 L119.6,82.33 L120.6,82.71 L121.6,83.10 L122.6,83.49 L123.6,83.88 L124.6,84.29 L125.6,84.69 L126.6,85.11 L127.6,85.53 L128.6,85.95 L129.6,86.38 L130.6,86.82 L131.6,87.27 L132.6,87.72 L133.6,88.17 L134.6,88.64 L135.6,89.11 L136.6,89.58 L137.6,90.07 L138.6,90.56 L139.6,91.05 L140.6,91.56 L141.6,92.07 L142.6,92.59 L143.6,93.12 L144.6,93.65 L145.6,94.20 L146.6,94.75 L147.6,95.31 L148.6,95.88 L149.6,96.45 L150.6,97.04 L151.6,97.63 L152.6,98.24 L153.6,98.85 L154.6,99.47 L155.6,100.11 L156.6,100.75 L157.6,101.40 L158.6,102.07 L159.6,102.74 L160.6,103.43 L161.6,104.12 L162.6,104.83 L163.6,105.55 L164.6,106.29 L165.6,107.03 L166.6,107.79 L167.6,108.56 L168.6,109.34 L169.6,110.14 L170.6,110.95 L171.6,111.78 L172.6,112.62 L173.6,113.47 L174.6,114.34 L175.6,115.23 L176.6,116.13 L177.6,117.04 L178.6,117.97 L179.6,118.92 L180.6,119.88 L181.6,120.86 L182.6,121.86 L183.6,122.87 L184.6,123.90 L185.6,124.95 L186.6,126.02 L187.6,127.10 L188.6,128.20 L189.6,129.31 L190.6,130.45 L191.6,131.60 L192.6,132.77 L193.6,133.96 L194.6,135.17 L195.6,136.40 L196.6,137.65 L197.6,138.91 L198.6,140.20 L199.6,141.50 L200.6,142.82 L201.6,144.16 L202.6,145.53 L203.6,146.91 L204.6,148.31 L205.6,149.73 L206.6,151.17 L207.6,152.63 L208.6,154.11 L209.6,155.61 L210.6,157.12 L211.6,158.66 L212.6,160.22 L213.6,161.80 L214.6,163.40 L215.6,165.01 L216.6,166.65 L217.6,168.31 L218.6,169.98 L219.6,171.68 L220.6,173.39 L221.6,175.12 L222.6,176.87 L223.6,178.64 L224.6,180.42 L225.6,182.23 L226.6,184.05 L227.6,185.88 L228.6,187.74 L229.6,189.61 L230.6,191.49 L231.6,193.40 L232.6,195.31 L233.6,197.24 L234.6,199.19 L235.6,201.15 L236.6,203.12 L237.6,205.10 L238.6,207.10 L239.6,209.11 L240.6,211.13 L241.6,213.16 L242.6,215.20 L243.6,217.25 L244.6,219.31 L245.6,221.37 L246.6,223.45 L247.6,225.54 L248.6,227.63 L249.6,229.73 L250.6,231.83 L251.6,233.94 L252.6,236.05 L253.6,238.17 L254.6,240.29 L255.6,242.41 L256.6,244.53 L257.6,246.66 L258.6,248.78 L259.6,250.90 L260.6,253.01 L261.6,255.13 L262.6,257.23 L263.6,259.33 L264.6,261.43 L265.6,263.51 L266.6,265.58 L267.6,267.65 L268.6,269.70 L269.6,271.73 L270.6,273.75 L271.6,275.76 L272.6,277.74 L273.6,279.71 L274.6,281.65 L275.6,283.57 L276.6,285.47 L277.6,287.34 L278.6,289.18 L279.6,290.99 L280.6,292.78 L281.6,294.53 L282.6,296.25 L283.6,297.93 L284.6,299.58 L285.6,301.18 L286.6,302.75 L287.6,304.28 L288.6,305.77 L289.6,307.21 L290.6,308.62 L291.6,309.97 L292.6,311.28 L293.6,312.54 L294.6,313.76 L295.6,314.93 L296.6,316.04 L297.6,317.11 L298.6,318.13 L299.6,319.11 L300.6,320.03 L301.6,320.90 L302.6,321.72 L303.6,322.49 L304.6,323.21 L305.6,323.88 L306.6,324.50 L307.6,325.07 L308.6,325.61 L309.6,326.09 L310.6,326.54 L311.6,326.95 L312.6,327.33 L313.6,327.67 L314.6,327.98 L315.6,328.26 L316.6,328.51 L317.6,328.73 L318.6,328.93 L319.6,329.11 L320.6,329.27 L321.6,329.41 L322.6,329.53 L323.6,329.64 L324.6,329.73 L325.6,329.81 L326.6,329.88 L327.6,329.94 L328.6,329.99 L329.6,330.04 L330.6,330.08 L331.6,330.11 L332.6,330.13 L333.6,330.15 L334.6,330.17 L335.6,330.19 L336.6,330.20 L337.6,330.21 L338.6,330.22 L339.6,330.22 L340.6,330.23 L341.6,330.23 L342.6,330.24 L343.6,330.24 L344.6,330.24 L345.6,330.24 L346.6,330.24 L347.6,330.24 L348.6,330.24 L349.6,330.24 L350.6,330.24 L351.6,330.25 L352.6,330.25 L353.6,330.25 L354.6,330.25 L355.6,330.25 L356.6,330.25 L357.6,330.25 L358.6,330.25 L359.6,330.25 L360.6,330.25 L361.6,330.25 L362.6,330.25 L363.6,330.25 L364.6,330.25 L365.6,330.25 L366.6,330.25 L367.6,330.25 L368.6,330.25 L369.6,330.25 L370.6,330.25 L371.6,330.25 L372.6,330.25 L373.6,330.25 L374.6,330.25 L375.6,330.25 L376.6,330.25 L377.6,330.25 L378.6,330.25 L379.6,330.25 L380.6,330.25 L381.6,330.25 L382.6,330.25 L383.6,330.25 L384.6,330.25 L385.6,330.25 L386.6,330.25 L387.6,330.25 L388.6,330.25 L389.6,330.25 L390.6,330.25 L391.6,330.25 L392.6,330.25 L393.6,330.25 L394.6,330.25 L395.6,330.25 L396.6,330.25 L397.6,330.25 L398.6,330.25 L399.6,330.25 L400.6,330.25 L401.6,330.25 L402.6,330.25 L403.6,330.25 L404.6,330.25 L405.6,330.25 L406.6,330.25 L407.6,330.25 L408.6,330.25 L409.6,330.25 L410.6,330.25 L411.6,330.25 L412.6,330.25 L413.6,330.25 L414.6,330.25 L415.6,330.25 L416.6,330.25 L417.6,330.25 L418.6,330.25 L419.6,330.25 L420.6,330.25 L421.6,330.25 L422.6,330.25 L423.6,330.25 L424.6,330.25 L425.6,330.25 L426.6,330.25 L427.6,330.25 L428.6,330.25 L429.6,330.25 L430.6,330.25 L431.6,330.25 L432.6,330.25 L433.6,330.25 L434.6,330.25 L435.6,330.25 L436.6,330.25 L437.6,330.25 L438.6,330.25 L439.6,330.25 L440.6,330.25 L441.6,330.25 L442.6,330.25 L443.6,330.25 L444.6,330.25 L445.6,330.25 L446.6,330.25 L447.6,330.25 L448.6,330.25 L449.6,330.25 L450.6,330.25 L451.6,330.25 L452.6,330.25 L453.6,330.25 L454.6,330.25 L455.6,330.25 L456.6,330.25 L457.6,330.25 L458.6,330.25 L459.6,330.25 L460.6,330.25 L461.6,330.25 L462.6,330.25 L463.6,330.25 L464.6,330.25 L465.6,330.25 L466.6,330.25 L467.6,330.25 L468.6,330.25 L469.6,330.25 L470.6,330.25 L471.6,330.25 L472.6,330.25 L473.6,330.25 L474.6,330.25 L475.6,330.25 L476.6,330.25 L477.6,330.25 L478.6,330.25 L479.6,330.25 L480.6,330.25 L481.6,330.25 L482.6,330.25 L483.6,330.25 L484.6,330.25 L485.6,330.25 L486.6,330.25 L487.6,330.25 L488.6,330.25 L489.6,330.25 L490.6,330.25 L491.6,330.25 L492.6,330.25 L493.6,330.25 L494.6,330.25 L495.6,330.25 L496.6,330.25 L497.6,330.25 L498.6,330.25 L499.6,330.25 L500.6,330.25 L501.6,330.25 L502.6,330.25 L503.6,330.25 L504.6,330.25 L505.6,330.25 L506.6,330.25 L507.6,330.25 L508.6,330.25 L509.6,330.25 L510.6,330.25 L511.6,330.25 L512.6,330.25 L513.6,330.25 L514.6,330.25 L515.6,330.25 L516.6,330.25 L517.6,330.25 L518.6,330.25 L519.6,330.25 L520.6,330.25 L521.4,330.25" stroke="#FFDFC4"/>
<path d="M39.6,66.50 L40.6,66.56 L41.6,66.63 L42.6,66.70 L43.6,66.78 L44.6,66.85 L45.6,66.93 L46.6,67.01 L47.6,67.09 L48.6,67.17 L49.6,67.26 L50.6,67.35 L51.6,67.44 L52.6,67.53 L53.6,67.63 L54.6,67.73 L55.6,67.83 L56.6,67.94 L57.6,68.04 L58.6,68.15 L59.6,68.27 L60.6,68.38 L61.6,68.50 L62.6,68.63 L63.6,68.75 L64.6,68.88 L65.6,69.01 L66.6,69.15 L67.6,69.29 L68.6,69.43 L69.6,69.58 L70.6,69.73 L71.6,69.89 L72.6,70.04 L73.6,70.21 L74.6,70.37 L75.6,70.54 L76.6,70.72 L77.6,70.90 L78.6,71.08 L79.6,71.27 L80.6,71.46 L81.6,71.65 L82.6,71.85 L83.6,72.06 L84.6,72.27 L85.6,72.48 L86.6,72.70 L87.6,72.92 L88.6,73.15 L89.6,73.38 L90.6,73.62 L91.6,73.86 L92.6,74.11 L93.6,74.36 L94.6,74.62 L95.6,74.88 L96.6,75.14 L97.6,75.42 L98.6,75.69 L99.6,75.97 L100.6,76.26 L101.6,76.55 L102.6,76.84 L103.6,77.14 L104.6,77.45 L105.6,77.76 L106.6,78.07 L107.6,78.39 L108.6,78.71 L109.6,79.04 L110.6,79.37 L111.6,79.71 L112.6,80.05 L113.6,80.40 L114.6,80.75 L115.6,81.11 L116.6,81.48 L117.6,81.84 L118.6,82.22 L119.6,82.60 L120.6,82.98 L121.6,83.37 L122.6,83.76 L123.6,84.16 L124.6,84.57 L125.6,84.98 L126.6,85.40 L127.6,85.82 L128.6,86.25 L129.6,86.69 L130.6,87.13 L131.6,87.58 L132.6,88.04 L133.6,88.50 L134.6,88.96 L135.6,89.44 L136.6,89.92 L137.6,90.41 L138.6,90.90 L139.6,91.41 L140.6,91.92 L141.6,92.43 L142.6,92.96 L143.6,93.49 L144.6,94.03 L145.6,94.58 L146.6,95.14 L147.6,95.71 L148.6,96.28 L149.6,96.86 L150.6,97.45 L151.6,98.06 L152.6,98.67 L153.6,99.29 L154.6,99.92 L155.6,100.56 L156.6,101.21 L157.6,101.87 L158.6,102.54 L159.6,103.22 L160.6,103.91 L161.6,104.62 L162.6,105.34 L163.6,106.06 L164.6,106.81 L165.6,107.56 L166.6,108.33 L167.6,109.11 L168.6,109.90 L169.6,110.71 L170.6,111.53 L171.6,112.36 L172.6,113.21 L173.6,114.08 L174.6,114.96 L175.6,115.85 L176.6,116.77 L177.6,117.69 L178.6,118.63 L179.6,119.59 L180.6,120.57 L181.6,121.56 L182.6,122.57 L183.6,123.59 L184.6,124.64 L185.6,125.69 L186.6,126.77 L187.6,127.87 L188.6,128.98 L189.6,130.11 L190.6,131.26 L191.6,132.42 L192.6,133.61 L193.6,134.81 L194.6,136.03 L195.6,137.27 L196.6,138.53 L197.6,139.81 L198.6,141.11 L199.6,142.42 L200.6,143.76 L201.6,145.11 L202.6,146.49 L203.6,147.88 L204.6,149.30 L205.6,150.73 L206.6,152.19 L207.6,153.66 L208.6,155.15 L209.6,156.67 L210.6,158.20 L211.6,159.75 L212.6,161.32 L213.6,162.92 L214.6,164.53 L215.6,166.16 L216.6,167.81 L217.6,169.48 L218.6,171.17 L219.6,172.87 L220.6,174.60 L221.6,176.34 L222.6,178.10 L223.6,179.88 L224.6,181.68 L225.6,183.50 L226.6,185.33 L227.6,187.18 L228.6,189.05 L229.6,190.93 L230.6,192.82 L231.6,194.74 L232.6,196.66 L233.6,198.60 L234.6,200.56 L235.6,202.53 L236.6,204.51 L237.6,206.50 L238.6,208.50 L239.6,210.52 L240.6,212.55 L241.6,214.58 L242.6,216.63 L243.6,218.69 L244.6,220.75 L245.6,222.83 L246.6,224.91 L247.6,227.00 L248.6,229.10 L249.6,231.20 L250.6,233.31 L251.6,235.42 L252.6,237.53 L253.6,239.65 L254.6,241.77 L255.6,243.90 L256.6,246.02 L257.6,248.14 L258.6,250.26 L259.6,252.38 L260.6,254.49 L261.6,256.60 L262.6,258.70 L263.6,260.80 L264.6,262.89 L265.6,264.96 L266.6,267.03 L267.6,269.08 L268.6,271.12 L269.6,273.15 L270.6,275.16 L271.6,277.15 L272.6,279.12 L273.6,281.07 L274.6,283.00 L275.6,284.90 L276.6,286.78 L277.6,288.63 L278.6,290.45 L279.6,292.24 L280.6,294.01 L281.6,295.73 L282.6,297.43 L283.6,299.09 L284.6,300.71 L285.6,302.29 L286.6,303.83 L287.6,305.33 L288.6,306.79 L289.6,308.20 L290.6,309.57 L291.6,310.89 L292.6,312.17 L293.6,313.40 L294.6,314.58 L295.6,315.71 L296.6,316.80 L297.6,317.83 L298.6,318.82 L299.6,319.76 L300.6,320.64 L301.6,321.48 L302.6,322.27 L303.6,323.00 L304.6,323.68 L305.6,324.32 L306.6,324.91 L307.6,325.45 L308.6,325.95 L309.6,326.41 L310.6,326.83 L311.6,327.22 L312.6,327.57 L313.6,327.89 L314.6,328.18 L315.6,328.43 L316.6,328.67 L317.6,328.87 L318.6,329.06 L319.6,329.22 L320.6,329.37 L321.6,329.50 L322.6,329.61 L323.6,329.70 L324.6,329.79 L325.6,329.86 L326.6,329.93 L327.6,329.98 L328.6,330.03 L329.6,330.06 L330.6,330.10 L331.6,330.13 L332.6,330.15 L333.6,330.17 L334.6,330.18 L335.6,330.20 L336.6,330.21 L337.6,330.21 L338.6,330.22 L339.6,330.23 L340.6,330.23 L341.6,330.23 L342.6,330.24 L343.6,330.24 L344.6,330.24 L345.6,330.24 L346.6,330.24 L347.6,330.24 L348.6,330.24 L349.6,330.24 L350.6,330.25 L351.6,330.25 L352.6,330.25 L353.6,330.25 L354.6,330.25 L355.6,330.25 L356.6,330.25 L357.6,330.25 L358.6,330.25 L359.6,330.25 L360.6,330.25 L361.6,330.25 L362.6,330.25 L363.6,330.25 L364.6,330.25 L365.6,330.25 L366.6,330.25 L367.6,330.25 L368.6,330.25 L369.6,330.25 L370.6,330.25 L371.6,330.25 L372.6,330.25 L373.6,330.25 L374.6,330.25 L375.6,330.25 L376.6,330.25 L377.6,330.25 L378.6,330.25 L379.6,330.25 L380.6,330.25 L381.6,330.25 L382.6,330.25 L383.6,330.25 L384.6,330.25 L385.6,330.25 L386.6,330.25 L387.6,330.25 L388.6,330.25 L389.6,330.25 L390.6,330.25 L391.6,330.25 L392.6,330.25 L393.6,330.25 L394.6,330.25 L395.6,330.25 L396.6,330.25 L397.6,330.25 L398.6,330.25 L399.6,330.25 L400.6,330.25 L401.6,330.25 L402.6,330.25 L403.6,330.25 L404.6,330.25 L405.6,330.25 L406.6,330.25 L407.6,330.25 L408.6,330.25 L409.6,330.25 L410.6,330.25 L411.6,330.25 L412.6,330.25 L413.6,330.25 L414.6,330.25 L415.6,330.25 L416.6,330.25 L417.6,330.25 L418.6,330.25 L419.6,330.25 L420.6,330.25 L421.6,330.25 L422.6,330.25 L423.6,330.25 L424.6,330.25 L425.6,330.25 L426.6,330.25 L427.6,330.25 L428.6,330.25 L429.6,330.25 L430.6,330.25 L431.6,330.25 L432.6,330.25 L433.6,330.25 L434.6,330.25 L435.6,330.25 L436.6,330.25 L437.6,330.25 L438.6,330.25 L439.6,330.25 L440.6,330.25 L441.6,330.25 L442.6,330.25 L443.6,330.25 L444.6,330.25 L445.6,330.25 L446.6,330.25 L447.6,330.25 L448.6,330.25 L449.6,330.25 L450.6,330.25 L451.6,330.25 L452.6,330.25 L453.6,330.25 L454.6,330.25 L455.6,330.25 L456.6,330.25 L457.6,330.25 L458.6,330.25 L459.6,330.25 L460.6,330.25 L461.6,330.25 L462.6,330.25 L463.6,330.25 L464.6,330.25 L465.6,330.25 L466.6,330.25 L467.6,330.25 L468.6,330.25 L469.6,330.25 L470.6,330.25 L471.6,330.25 L472.6,330.25 L473.6,330.25 L474.6,330.25 L475.6,330.25 L476.6,330.25 L477.6,330.25 L478.6,330.25 L479.6,330.25 L480.6,330.25 L481.6,330.25 L482.6,330.25 L483.6,330.25 L484.6,330.25 L485.6,330.25 L486.6,330.25 L487.6,330.25 L488.6,330.25 L489.6,330.25 L490.6,330.25 L491.6,330.25 L492.6,330.25 L493.6,330.25 L494.6,330.25 L495.6,330.25 L496.6,330.25 L497.6,330.25 L498.6,330.25 L499.6,330.25 L500.6,330.25 L501.6,330.25 L502.6,330.25 L503.6,330.25 L504.6,330.25 L505.6,330.25 L506.6,330.25 L507.6,330.25 L508.6,330.25 L509.6,330.25 L510.6,330.25 L511.6,330.25 L512.6,330.25 L513.6,330.25 L514.6,330.25 L515.6,330.25 L516.6,330.25 L517.6,330.25 L518.6,330.25 L519.6,330.25 L520.6,330.25 L521.4,330.25" stroke="#A050A0"/>
<path d="M39.6,66.48 L40.6,66.54 L41.6,66.61 L42.6,66.68 L43.6,66.75 L44.6,66.83 L45.6,66.91 L46.6,66.98 L47.6,67.06 L48.6,67.15 L49.6,67.23 L50.6,67.32 L51.6,67.41 L52.6,67.51 L53.6,67.60 L54.6,67.70 L55.6,67.80 L56.6,67.90 L57.6,68.01 L58.6,68.12 L59.6,68.23 L60.6,68.35 L61.6,68.47 L62.6,68.59 L63.6,68.71 L64.6,68.84 L65.6,68.97 L66.6,69.11 L67.6,69.25 L68.6,69.39 L69.6,69.54 L70.6,69.69 L71.6,69.84 L72.6,70.00 L73.6,70.16 L74.6,70.32 L75.6,70.49 L76.6,70.66 L77.6,70.84 L78.6,71.02 L79.6,71.21 L80.6,71.40 L81.6,71.59 L82.6,71.79 L83.6,72.00 L84.6,72.20 L85.6,72.42 L86.6,72.63 L87.6,72.85 L88.6,73.08 L89.6,73.31 L90.6,73.55 L91.6,73.79 L92.6,74.03 L93.6,74.28 L94.6,74.54 L95.6,74.80 L96.6,75.06 L97.6,75.33 L98.6,75.61 L99.6,75.89 L100.6,76.17 L101.6,76.46 L102.6,76.75 L103.6,77.05 L104.6,77.36 L105.6,77.66 L106.6,77.98 L107.6,78.29 L108.6,78.62 L109.6,78.94 L110.6,79.27 L111.6,79.61 L112.6,79.95 L113.6,80.30 L114.6,80.65 L115.6,81.00 L116.6,81.37 L117.6,81.73 L118.6,82.10 L119.6,82.48 L120.6,82.86 L121.6,83.25 L122.6,83.65 L123.6,84.04 L124.6,84.45 L125.6,84.86 L126.6,85.28 L127.6,85.70 L128.6,86.13 L129.6,86.56 L130.6,87.00 L131.6,87.45 L132.6,87.90 L133.6,88.36 L134.6,88.82 L135.6,89.30 L136.6,89.78 L137.6,90.26 L138.6,90.76 L139.6,91.26 L140.6,91.76 L141.6,92.28 L142.6,92.80 L143.6,93.33 L144.6,93.87 L145.6,94.42 L146.6,94.97 L147.6,95.53 L148.6,96.11 L149.6,96.69 L150.6,97.28 L151.6,97.87 L152.6,98.48 L153.6,99.10 L154.6,99.73 L155.6,100.36 L156.6,101.01 L157.6,101.67 L158.6,102.34 L159.6,103.01 L160.6,103.70 L161.6,104.41 L162.6,105.12 L163.6,105.84 L164.6,106.58 L165.6,107.33 L166.6,108.09 L167.6,108.87 L168.6,109.66 L169.6,110.46 L170.6,111.28 L171.6,112.11 L172.6,112.96 L173.6,113.82 L174.6,114.69 L175.6,115.58 L176.6,116.49 L177.6,117.41 L178.6,118.35 L179.6,119.30 L180.6,120.27 L181.6,121.26 L182.6,122.26 L183.6,123.28 L184.6,124.32 L185.6,125.38 L186.6,126.45 L187.6,127.54 L188.6,128.64 L189.6,129.77 L190.6,130.91 L191.6,132.07 L192.6,133.25 L193.6,134.45 L194.6,135.66 L195.6,136.90 L196.6,138.15 L197.6,139.42 L198.6,140.71 L199.6,142.03 L200.6,143.36 L201.6,144.71 L202.6,146.08 L203.6,147.46 L204.6,148.87 L205.6,150.30 L206.6,151.75 L207.6,153.22 L208.6,154.70 L209.6,156.21 L210.6,157.74 L211.6,159.28 L212.6,160.85 L213.6,162.44 L214.6,164.04 L215.6,165.67 L216.6,167.31 L217.6,168.97 L218.6,170.66 L219.6,172.36 L220.6,174.08 L221.6,175.82 L222.6,177.57 L223.6,179.35 L224.6,181.14 L225.6,182.95 L226.6,184.78 L227.6,186.62 L228.6,188.48 L229.6,190.36 L230.6,192.25 L231.6,194.16 L232.6,196.08 L233.6,198.02 L234.6,199.97 L235.6,201.94 L236.6,203.91 L237.6,205.90 L238.6,207.90 L239.6,209.91 L240.6,211.94 L241.6,213.97 L242.6,216.02 L243.6,218.07 L244.6,220.13 L245.6,222.20 L246.6,224.28 L247.6,226.37 L248.6,228.47 L249.6,230.57 L250.6,232.67 L251.6,234.78 L252.6,236.90 L253.6,239.02 L254.6,241.14 L255.6,243.26 L256.6,245.38 L257.6,247.50 L258.6,249.62 L259.6,251.74 L260.6,253.86 L261.6,255.97 L262.6,258.07 L263.6,260.17 L264.6,262.26 L265.6,264.34 L266.6,266.41 L267.6,268.47 L268.6,270.51 L269.6,272.54 L270.6,274.56 L271.6,276.55 L272.6,278.53 L273.6,280.49 L274.6,282.42 L275.6,284.33 L276.6,286.22 L277.6,288.08 L278.6,289.91 L279.6,291.71 L280.6,293.48 L281.6,295.22 L282.6,296.92 L283.6,298.59 L284.6,300.22 L285.6,301.82 L286.6,303.37 L287.6,304.88 L288.6,306.35 L289.6,307.78 L290.6,309.16 L291.6,310.50 L292.6,311.79 L293.6,313.04 L294.6,314.23 L295.6,315.38 L296.6,316.48 L297.6,317.53 L298.6,318.53 L299.6,319.48 L300.6,320.38 L301.6,321.24 L302.6,322.04 L303.6,322.79 L304.6,323.48 L305.6,324.13 L306.6,324.74 L307.6,325.29 L308.6,325.81 L309.6,326.28 L310.6,326.71 L311.6,327.11 L312.6,327.47 L313.6,327.80 L314.6,328.09 L315.6,328.36 L316.6,328.60 L317.6,328.81 L318.6,329.01 L319.6,329.18 L320.6,329.33 L321.6,329.46 L322.6,329.58 L323.6,329.68 L324.6,329.77 L325.6,329.84 L326.6,329.91 L327.6,329.96 L328.6,330.01 L329.6,330.05 L330.6,330.09 L331.6,330.12 L332.6,330.14 L333.6,330.16 L334.6,330.18 L335.6,330.19 L336.6,330.20 L337.6,330.21 L338.6,330.22 L339.6,330.23 L340.6,330.23 L341.6,330.23 L342.6,330.24 L343.6,330.24 L344.6,330.24 L345.6,330.24 L346.6,330.24 L347.6,330.24 L348.6,330.24 L349.6,330.24 L350.6,330.25 L351.6,330.25 L352.6,330.25 L353.6,330.25 L354.6,330.25 L355.6,330.25 L356.6,330.25 L357.6,330.25 L358.6,330.25 L359.6,330.25 L360.6,330.25 L361.6,330.25 L362.6,330.25 L363.6,330.25 L364.6,330.25 L365.6,330.25 L366.6,330.25 L367.6,330.25 L368.6,330.25 L369.6,330.25 L370.6,330.25 L371.6,330.25 L372.6,330.25 L373.6,330.25 L374.6,330.25 L375.6,330.25 L376.6,330.25 L377.6,330.25 L378.6,330.25 L379.6,330.25 L380.6,330.25 L381.6,330.25 L382.6,330.25 L383.6,330.25 L384.6,330.25 L385.6,330.25 L386.6,330.25 L387.6,330.25 L388.6,330.25 L389.6,330.25 L390.6,330.25 L391.6,330.25 L392.6,330.25 L393.6,330.25 L394.6,330.25 L395.6,330.25 L396.6,330.25 L397.6,330.25 L398.6,330.25 L399.6,330.25 L400.6,330.25 L401.6,330.25 L402.6,330.25 L403.6,330.25 L404.6,330.25 L405.6,330.25 L406.6,330.25 L407.6,330.25 L408.6,330.25 L409.6,330.25 L410.6,330.25 L411.6,330.25 L412.6,330.25 L413.6,330.25 L414.6,330.25 L415.6,330.25 L416.6,330.25 L417.6,330.25 L418.6,330.25 L419.6,330.25 L420.6,330.25 L421.6,330.25 L422.6,330.25 L423.6,330.25 L424.6,330.25 L425.6,330.25 L426.6,330.25 L427.6,330.25 L428.6,330.25 L429.6,330.25 L430.6,330.25 L431.6,330.25 L432.6,330.25 L433.6,330.25 L434.6,330.25 L435.6,330.25 L436.6,330.25 L437.6,330.25 L438.6,330.25 L439.6,330.25 L440.6,330.25 L441.6,330.25 L442.6,330.25 L443.6,330.25 L444.6,330.25 L445.6,330.25 L446.6,330.25 L447.6,330.25 L448.6,330.25 L449.6,330.25 L450.6,330.25 L451.6,330.25 L452.6,330.25 L453.6,330.25 L454.6,330.25 L455.6,330.25 L456.6,330.25 L457.6,330.25 L458.6,330.25 L459.6,330.25 L460.6,330.25 L461.6,330.25 L462.6,330.25 L463.6,330.25 L464.6,330.25 L465.6,330.25 L466.6,330.25 L467.6,330.25 L468.6,330.25 L469.6,330.25 L470.6,330.25 L471.6,330.25 L472.6,330.25 L473.6,330.25 L474.6,330.25 L475.6,330.25 L476.6,330.25 L477.6,330.25 L478.6,330.25 L479.6,330.25 L480.6,330.25 L481.6,330.25 L482.6,330.25 L483.6,330.25 L484.6,330.25 L485.6,330.25 L486.6,330.25 L487.6,330.25 L488.6,330.25 L489.6,330.25 L490.6,330.25 L491.6,330.25 L492.6,330.25 L493.6,330.25 L494.6,330.25 L495.6,330.25 L496.6,330.25 L497.6,330.25 L498.6,330.25 L499.6,330.25 L500.6,330.25 L501.6,330.25 L502.6,330.25 L503.6,330.25 L504.6,330.25 L505.6,330.25 L506.6,330.25 L507.6,330.25 L508.6,330.25 L509.6,330.25 L510.6,330.25 L511.6,330.25 L512.6,330.25 L513.6,330.25 L514.6,330.25 L515.6,330.25 L516.6,330.25 L517.6,330.25 L518.6,330.25 L519.6,330.25 L520.6,330.25 L521.4,330.25" stroke="#FFFF00"/>
<path d="M39.6,66.53 L40.6,66.60 L41.6,66.67 L42.6,66.74 L43.6,66.81 L44.6,66.89 L45.6,66.96 L46.6,67.05 L47.6,67.13 L48.6,67.21 L49.6,67.30 L50.6,67.39 L51.6,67.48 L52.6,67.58 L53.6,67.67 L54.6,67.78 L55.6,67.88 L56.6,67.98 L57.6,68.09 L58.6,68.20 L59.6,68.32 L60.6,68.44 L61.6,68.56 L62.6,68.68 L63.6,68.81 L64.6,68.94 L65.6,69.08 L66.6,69.21 L67.6,69.35 L68.6,69.50 L69.6,69.65 L70.6,69.80 L71.6,69.96 L72.6,70.12 L73.6,70.28 L74.6,70.45 L75.6,70.62 L76.6,70.80 L77.6,70.98 L78.6,71.16 L79.6,71.35 L80.6,71.55 L81.6,71.74 L82.6,71.95 L83.6,72.15 L84.6,72.36 L85.6,72.58 L86.6,72.80 L87.6,73.03 L88.6,73.26 L89.6,73.49 L90.6,73.73 L91.6,73.98 L92.6,74.22 L93.6,74.48 L94.6,74.74 L95.6,75.00 L96.6,75.27 L97.6,75.54 L98.6,75.82 L99.6,76.11 L100.6,76.39 L101.6,76.69 L102.6,76.99 L103.6,77.29 L104.6,77.60 L105.6,77.91 L106.6,78.22 L107.6,78.54 L108.6,78.87 L109.6,79.20 L110.6,79.54 L111.6,79.88 L112.6,80.22 L113.6,80.57 L114.6,80.93 L115.6,81.29 L116.6,81.66 L117.6,82.03 L118.6,82.40 L119.6,82.79 L120.6,83.17 L121.6,83.57 L122.6,83.96 L123.6,84.37 L124.6,84.78 L125.6,85.19 L126.6,85.61 L127.6,86.04 L128.6,86.48 L129.6,86.91 L130.6,87.36 L131.6,87.81 L132.6,88.27 L133.6,88.74 L134.6,89.21 L135.6,89.69 L136.6,90.17 L137.6,90.66 L138.6,91.16 L139.6,91.67 L140.6,92.19 L141.6,92.71 L142.6,93.24 L143.6,93.77 L144.6,94.32 L145.6,94.87 L146.6,95.44 L147.6,96.01 L148.6,96.58 L149.6,97.17 L150.6,97.77 L151.6,98.38 L152.6,98.99 L153.6,99.62 L154.6,100.25 L155.6,100.90 L156.6,101.55 L157.6,102.22 L158.6,102.90 L159.6,103.59 L160.6,104.29 L161.6,105.00 L162.6,105.72 L163.6,106.46 L164.6,107.20 L165.6,107.96 L166.6,108.74 L167.6,109.52 L168.6,110.33 L169.6,111.14 L170.6,111.97 L171.6,112.81 L172.6,113.67 L173.6,114.54 L174.6,115.43 L175.6,116.34 L176.6,117.26 L177.6,118.19 L178.6,119.14 L179.6,120.11 L180.6,121.09 L181.6,122.09 L182.6,123.11 L183.6,124.15 L184.6,125.20 L185.6,126.27 L186.6,127.35 L187.6,128.46 L188.6,129.58 L189.6,130.72 L190.6,131.88 L191.6,133.05 L192.6,134.25 L193.6,135.46 L194.6,136.69 L195.6,137.94 L196.6,139.21 L197.6,140.50 L198.6,141.81 L199.6,143.14 L200.6,144.49 L201.6,145.85 L202.6,147.24 L203.6,148.65 L204.6,150.07 L205.6,151.52 L206.6,152.98 L207.6,154.47 L208.6,155.97 L209.6,157.50 L210.6,159.04 L211.6,160.61 L212.6,162.19 L213.6,163.80 L214.6,165.42 L215.6,167.06 L216.6,168.73 L217.6,170.41 L218.6,172.11 L219.6,173.83 L220.6,175.57 L221.6,177.32 L222.6,179.10 L223.6,180.89 L224.6,182.70 L225.6,184.53 L226.6,186.37 L227.6,188.24 L228.6,190.11 L229.6,192.01 L230.6,193.92 L231.6,195.84 L232.6,197.78 L233.6,199.73 L234.6,201.70 L235.6,203.68 L236.6,205.67 L237.6,207.68 L238.6,209.69 L239.6,211.72 L240.6,213.76 L241.6,215.80 L242.6,217.86 L243.6,219.93 L244.6,222.01 L245.6,224.09 L246.6,226.19 L247.6,228.29 L248.6,230.39 L249.6,232.51 L250.6,234.62 L251.6,236.74 L252.6,238.87 L253.6,241.00 L254.6,243.13 L255.6,245.26 L256.6,247.39 L257.6,249.52 L258.6,251.65 L259.6,253.77 L260.6,255.89 L261.6,258.01 L262.6,260.12 L263.6,262.22 L264.6,264.31 L265.6,266.39 L266.6,268.47 L267.6,270.52 L268.6,272.57 L269.6,274.60 L270.6,276.61 L271.6,278.60 L272.6,280.57 L273.6,282.52 L274.6,284.45 L275.6,286.36 L276.6,288.23 L277.6,290.08 L278.6,291.91 L279.6,293.70 L280.6,295.45 L281.6,297.18 L282.6,298.87 L283.6,300.52 L284.6,302.14 L285.6,303.71 L286.6,305.25 L287.6,306.74 L288.6,308.19 L289.6,309.60 L290.6,310.96 L291.6,312.27 L292.6,313.54 L293.6,314.76 L294.6,315.93 L295.6,317.06 L296.6,318.13 L297.6,319.16 L298.6,320.13 L299.6,321.06 L300.6,321.93 L301.6,322.76 L302.6,323.53 L303.6,324.25 L304.6,324.92 L305.6,325.55 L306.6,326.12 L307.6,326.66 L308.6,327.15 L309.6,327.60 L310.6,328.01 L311.6,328.39 L312.6,328.73 L313.6,329.04 L314.6,329.32 L315.6,329.57 L316.6,329.80 L317.6,330.00 L318.6,330.18 L319.6,330.33 L320.6,330.47 L321.6,330.60 L322.6,330.71 L323.6,330.80 L324.6,330.88 L325.6,330.95 L326.6,331.01 L327.6,331.06 L328.6,331.11 L329.6,331.15 L330.6,331.18 L331.6,331.20 L332.6,331.22 L333.6,331.24 L334.6,331.26 L335.6,331.27 L336.6,331.28 L337.6,331.29 L338.6,331.29 L339.6,331.30 L340.6,331.30 L341.6,331.31 L342.6,331.31 L343.6,331.31 L344.6,331.31 L345.6,331.31 L346.6,331.31 L347.6,331.31 L348.6,331.31 L349.6,331.32 L350.6,331.32 L351.6,331.32 L352.6,331.32 L353.6,331.32 L354.6,331.32 L355.6,331.32 L356.6,331.32 L357.6,331.32 L358.6,331.32 L359.6,331.32 L360.6,331.32 L361.6,331.32 L362.6,331.32 L363.6,331.32 L364.6,331.32 L365.6,331.32 L366.6,331.32 L367.6,331.32 L368.6,331.32 L369.6,331.32 L370.6,331.32 L371.6,331.32 L372.6,331.32 L373.6,331.32 L374.6,331.32 L375.6,331.32 L376.6,331.32 L377.6,331.32 L378.6,331.32 L379.6,331.32 L380.6,331.32 L381.6,331.32 L382.6,331.32 L383.6,331.32 L384.6,331.32 L385.6,331.32 L386.6,331.32 L387.6,331.32 L388.6,331.32 L389.6,331.32 L390.6,331.32 L391.6,331.32 L392.6,331.32 L393.6,331.32 L394.6,331.32 L395.6,331.32 L396.6,331.32 L397.6,331.32 L398.6,331.32 L399.6,331.32 L400.6,331.32 L401.6,331.32 L402.6,331.32 L403.6,331.32 L404.6,331.32 L405.6,331.32 L406.6,331.32 L407.6,331.32 L408.6,331.32 L409.6,331.32 L410.6,331.32 L411.6,331.32 L412.6,331.32 L413.6,331.32 L414.6,331.32 L415.6,331.32 L416.6,331.32 L417.6,331.32 L418.6,331.32 L419.6,331.32 L420.6,331.32 L421.6,331.32 L422.6,331.32 L423.6,331.32 L424.6,331.32 L425.6,331.32 L426.6,331.32 L427.6,331.32 L428.6,331.32 L429.6,331.32 L430.6,331.32 L431.6,331.32 L432.6,331.32 L433.6,331.32 L434.6,331.32 L435.6,331.32 L436.6,331.32 L437.6,331.32 L438.6,331.32 L439.6,331.32 L440.6,331.32 L441.6,331.32 L442.6,331.32 L443.6,331.32 L444.6,331.32 L445.6,331.32 L446.6,331.32 L447.6,331.32 L448.6,331.32 L449.6,331.32 L450.6,331.32 L451.6,331.32 L452.6,331.32 L453.6,331.32 L454.6,331.32 L455.6,331.32 L456.6,331.32 L457.6,331.32 L458.6,331.32 L459.6,331.32 L460.6,331.32 L461.6,331.32 L462.6,331.32 L463.6,331.32 L464.6,331.32 L465.6,331.32 L466.6,331.32 L467.6,331.32 L468.6,331.32 L469.6,331.32 L470.6,331.32 L471.6,331.32 L472.6,331.32 L473.6,331.32 L474.6,331.32 L475.6,331.32 L476.6,331.32 L477.6,331.32 L478.6,331.32 L479.6,331.32 L480.6,331.32 L481.6,331.32 L482.6,331.32 L483.6,331.32 L484.6,331.32 L485.6,331.32 L486.6,331.32 L487.6,331.32 L488.6,331.32 L489.6,331.32 L490.6,331.32 L491.6,331.32 L492.6,331.32 L493.6,331.32 L494.6,331.32 L495.6,331.32 L496.6,331.32 L497.6,331.32 L498.6,331.32 L499.6,331.32 L500.6,331.32 L501.6,331.32 L502.6,331.32 L503.6,331.32 L504.6,331.32 L505.6,331.32 L506.6,331.32 L507.6,331.32 L508.6,331.32 L509.6,331.32 L510.6,331.32 L511.6,331.32 L512.6,331.32 L513.6,331.32 L514.6,331.32 L515.6,331.32 L516.6,331.32 L517.6,331.32 L518.6,331.32 L519.6,331.32 L520.6,331.32 L521.4,331.32" stroke="#FF00FF"/>
<path d="M39.6,66.48 L40.6,66.54 L41.6,66.61 L42.6,66.68 L43.6,66.75 L44.6,66.83 L45.6,66.91 L46.6,66.98 L47.6,67.06 L48.6,67.15 L49.6,67.23 L50.6,67.32 L51.6,67.41 L52.6,67.51 L53.6,67.60 L54.6,67.70 L55.6,67.80 L56.6,67.90 L57.6,68.01 L58.6,68.12 L59.6,68.23 L60.6,68.35 L61.6,68.47 L62.6,68.59 L63.6,68.71 L64.6,68.84 L65.6,68.97 L66.6,69.11 L67.6,69.25 L68.6,69.39 L69.6,69.54 L70.6,69.69 L71.6,69.84 L72.6,70.00 L73.6,70.16 L74.6,70.32 L75.6,70.49 L76.6,70.66 L77.6,70.84 L78.6,71.02 L79.6,71.21 L80.6,71.40 L81.6,71.59 L82.6,71.79 L83.6,72.00 L84.6,72.20 L85.6,72.42 L86.6,72.63 L87.6,72.85 L88.6,73.08 L89.6,73.31 L90.6,73.55 L91.6,73.79 L92.6,74.03 L93.6,74.28 L94.6,74.54 L95.6,74.80 L96.6,75.06 L97.6,75.33 L98.6,75.61 L99.6,75.89 L100.6,76.17 L101.6,76.46 L102.6,76.75 L103.6,77.05 L104.6,77.36 L105.6,77.66 L106.6,77.98 L107.6,78.29 L108.6,78.62 L109.6,78.94 L110.6,79.27 L111.6,79.61 L112.6,79.95 L113.6,80.30 L114.6,80.65 L115.6,81.00 L116.6,81.37 L117.6,81.73 L118.6,82.10 L119.6,82.48 L120.6,82.86 L121.6,83.25 L122.6,83.65 L123.6,84.04 L124.6,84.45 L125.6,84.86 L126.6,85.28 L127.6,85.70 L128.6,86.13 L129.6,86.56 L130.6,87.00 L131.6,87.45 L132.6,87.90 L133.6,88.36 L134.6,88.82 L135.6,89.30 L136.6,89.78 L137.6,90.26 L138.6,90.76 L139.6,91.26 L140.6,91.76 L141.6,92.28 L142.6,92.80 L143.6,93.33 L144.6,93.87 L145.6,94.42 L146.6,94.97 L147.6,95.53 L148.6,96.11 L149.6,96.69 L150.6,97.28 L151.6,97.87 L152.6,98.48 L153.6,99.10 L154.6,99.73 L155.6,100.36 L156.6,101.01 L157.6,101.67 L158.6,102.34 L159.6,103.01 L160.6,103.70 L161.6,104.41 L162.6,105.12 L163.6,105.84 L164.6,106.58 L165.6,107.33 L166.6,108.09 L167.6,108.87 L168.6,109.66 L169.6,110.46 L170.6,111.28 L171.6,112.11 L172.6,112.96 L173.6,113.82 L174.6,114.69 L175.6,115.58 L176.6,116.49 L177.6,117.41 L178.6,118.35 L179.6,119.30 L180.6,120.27 L181.6,121.26 L182.6,122.26 L183.6,123.28 L184.6,124.32 L185.6,125.38 L186.6,126.45 L187.6,127.54 L188.6,128.64 L189.6,129.77 L190.6,130.91 L191.6,132.07 L192.6,133.25 L193.6,134.45 L194.6,135.66 L195.6,136.90 L196.6,138.15 L197.6,139.42 L198.6,140.71 L199.6,142.03 L200.6,143.36 L201.6,144.71 L202.6,146.08 L203.6,147.46 L204.6,148.87 L205.6,150.30 L206.6,151.75 L207.6,153.22 L208.6,154.70 L209.6,156.21 L210.6,157.74 L211.6,159.28 L212.6,160.85 L213.6,162.44 L214.6,164.04 L215.6,165.67 L216.6,167.31 L217.6,168.97 L218.6,170.66 L219.6,172.36 L220.6,174.08 L221.6,175.82 L222.6,177.57 L223.6,179.35 L224.6,181.14 L225.6,182.95 L226.6,184.78 L227.6,186.62 L228.6,188.48 L229.6,190.36 L230.6,192.25 L231.6,194.16 L232.6,196.08 L233.6,198.02 L234.6,199.97 L235.6,201.94 L236.6,203.91 L237.6,205.90 L238.6,207.90 L239.6,209.91 L240.6,211.94 L241.6,213.97 L242.6,216.02 L243.6,218.07 L244.6,220.13 L245.6,222.20 L246.6,224.28 L247.6,226.37 L248.6,228.47 L249.6,230.57 L250.6,232.67 L251.6,234.78 L252.6,236.90 L253.6,239.02 L254.6,241.14 L255.6,243.26 L256.6,245.38 L257.6,247.50 L258.6,249.62 L259.6,251.74 L260.6,253.86 L261.6,255.97 L262.6,258.07 L263.6,260.17 L264.6,262.26 L265.6,264.34 L266.6,266.41 L267.6,268.47 L268.6,270.51 L269.6,272.54 L270.6,274.56 L271.6,276.55 L272.6,278.53 L273.6,280.49 L274.6,282.42 L275.6,284.33 L276.6,286.22 L277.6,288.08 L278.6,289.91 L279.6,291.71 L280.6,293.48 L281.6,295.22 L282.6,296.92 L283.6,298.59 L284.6,300.22 L285.6,301.82 L286.6,303.37 L287.6,304.88 L288.6,306.35 L289.6,307.78 L290.6,309.16 L291.6,310.50 L292.6,311.79 L293.6,313.04 L294.6,314.23 L295.6,315.38 L296.6,316.48 L297.6,317.53 L298.6,318.53 L299.6,319.48 L300.6,320.38 L301.6,321.24 L302.6,322.04 L303.6,322.79 L304.6,323.48 L305.6,324.13 L306.6,324.74 L307.6,325.29 L308.6,325.81 L309.6,326.28 L310.6,326.71 L311.6,327.11 L312.6,327.47 L313.6,327.80 L314.6,328.09 L315.6,328.36 L316.6,328.60 L317.6,328.81 L318.6,329.01 L319.6,329.18 L320.6,329.33 L321.6,329.46 L322.6,329.58 L323.6,329.68 L324.6,329.77 L325.6,329.84 L326.6,329.91 L327.6,329.96 L328.6,330.01 L329.6,330.05 L330.6,330.09 L331.6,330.12 L332.6,330.14 L333.6,330.16 L334.6,330.18 L335.6,330.19 L336.6,330.20 L337.6,330.21 L338.6,330.22 L339.6,330.23 L340.6,330.23 L341.6,330.23 L342.6,330.24 L343.6,330.24 L344.6,330.24 L345.6,330.24 L346.6,330.24 L347.6,330.24 L348.6,330.24 L349.6,330.24 L350.6,330.25 L351.6,330.25 L352.6,330.25 L353.6,330.25 L354.6,330.25 L355.6,330.25 L356.6,330.25 L357.6,330.25 L358.6,330.25 L359.6,330.25 L360.6,330.25 L361.6,330.25 L362.6,330.25 L363.6,330.25 L364.6,330.25 L365.6,330.25 L366.6,330.25 L367.6,330.25 L368.6,330.25 L369.6,330.25 L370.6,330.25 L371.6,330.25 L372.6,330.25 L373.6,330.25 L374.6,330.25 L375.6,330.25 L376.6,330.25 L377.6,330.25 L378.6,330.25 L379.6,330.25 L380.6,330.25 L381.6,330.25 L382.6,330.25 L383.6,330.25 L384.6,330.25 L385.6,330.25 L386.6,330.25 L387.6,330.25 L388.6,330.25 L389.6,330.25 L390.6,330.25 L391.6,330.25 L392.6,330.25 L393.6,330.25 L394.6,330.25 L395.6,330.25 L396.6,330.25 L397.6,330.25 L398.6,330.25 L399.6,330.25 L400.6,330.25 L401.6,330.25 L402.6,330.25 L403.6,330.25 L404.6,330.25 L405.6,330.25 L406.6,330.25 L407.6,330.25 L408.6,330.25 L409.6,330.25 L410.6,330.25 L411.6,330.25 L412.6,330.25 L413.6,330.25 L414.6,330.25 L415.6,330.25 L416.6,330.25 L417.6,330.25 L418.6,330.25 L419.6,330.25 L420.6,330.25 L421.6,330.25 L422.6,330.25 L423.6,330.25 L424.6,330.25 L425.6,330.25 L426.6,330.25 L427.6,330.25 L428.6,330.25 L429.6,330.25 L430.6,330.25 L431.6,330.25 L432.6,330.25 L433.6,330.25 L434.6,330.25 L435.6,330.25 L436.6,330.25 L437.6,330.25 L438.6,330.25 L439.6,330.25 L440.6,330.25 L441.6,330.25 L442.6,330.25 L443.6,330.25 L444.6,330.25 L445.6,330.25 L446.6,330.25 L447.6,330.25 L448.6,330.25 L449.6,330.25 L450.6,330.25 L451.6,330.25 L452.6,330.25 L453.6,330.25 L454.6,330.25 L455.6,330.25 L456.6,330.25 L457.6,330.25 L458.6,330.25 L459.6,330.25 L460.6,330.25 L461.6,330.25 L462.6,330.25 L463.6,330.25 L464.6,330.25 L465.6,330.25 L466.6,330.25 L467.6,330.25 L468.6,330.25 L469.6,330.25 L470.6,330.25 L471.6,330.25 L472.6,330.25 L473.6,330.25 L474.6,330.25 L475.6,330.25 L476.6,330.25 L477.6,330.25 L478.6,330.25 L479.6,330.25 L480.6,330.25 L481.6,330.25 L482.6,330.25 L483.6,330.25 L484.6,330.25 L485.6,330.25 L486.6,330.25 L487.6,330.25 L488.6,330.25 L489.6,330.25 L490.6,330.25 L491.6,330.25 L492.6,330.25 L493.6,330.25 L494.6,330.25 L495.6,330.25 L496.6,330.25 L497.6,330.25 L498.6,330.25 L499.6,330.25 L500.6,330.25 L501.6,330.25 L502.6,330.25 L503.6,330.25 L504.6,330.25 L505.6,330.25 L506.6,330.25 L507.6,330.25 L508.6,330.25 L509.6,330.25 L510.6,330.25 L511.6,330.25 L512.6,330.25 L513.6,330.25 L514.6,330.25 L515.6,330.25 L516.6,330.25 L517.6,330.25 L518.6,330.25 L519.6,330.25 L520.6,330.25 L521.4,330.25" stroke="#DAEAFA"/>
<path d="M39.6,66.48 L40.6,66.55 L41.6,66.61 L42.6,66.68 L43.6,66.76 L44.6,66.83 L45.6,66.91 L46.6,66.99 L47.6,67.07 L48.6,67.15 L49.6,67.24 L50.6,67.32 L51.6,67.41 L52.6,67.51 L53.6,67.60 L54.6,67.70 L55.6,67.80 L56.6,67.91 L57.6,68.01 L58.6,68.12 L59.6,68.24 L60.6,68.35 L61.6,68.47 L62.6,68.59 L63.6,68.72 L64.6,68.85 L65.6,68.98 L66.6,69.11 L67.6,69.25 L68.6,69.39 L69.6,69.54 L70.6,69.69 L71.6,69.84 L72.6,70.00 L73.6,70.16 L74.6,70.33 L75.6,70.50 L76.6,70.67 L77.6,70.85 L78.6,71.03 L79.6,71.21 L80.6,71.40 L81.6,71.60 L82.6,71.80 L83.6,72.00 L84.6,72.21 L85.6,72.42 L86.6,72.64 L87.6,72.86 L88.6,73.09 L89.6,73.32 L90.6,73.55 L91.6,73.80 L92.6,74.04 L93.6,74.29 L94.6,74.55 L95.6,74.81 L96.6,75.07 L97.6,75.34 L98.6,75.62 L99.6,75.90 L100.6,76.18 L101.6,76.47 L102.6,76.76 L103.6,77.06 L104.6,77.37 L105.6,77.67 L106.6,77.99 L107.6,78.30 L108.6,78.63 L109.6,78.95 L110.6,79.28 L111.6,79.62 L112.6,79.96 L113.6,80.31 L114.6,80.66 L115.6,81.02 L116.6,81.38 L117.6,81.75 L118.6,82.12 L119.6,82.49 L120.6,82.88 L121.6,83.27 L122.6,83.66 L123.6,84.06 L124.6,84.46 L125.6,84.87 L126.6,85.29 L127.6,85.71 L128.6,86.14 L129.6,86.58 L130.6,87.02 L131.6,87.46 L132.6,87.92 L133.6,88.38 L134.6,88.84 L135.6,89.31 L136.6,89.79 L137.6,90.28 L138.6,90.77 L139.6,91.28 L140.6,91.78 L141.6,92.30 L142.6,92.82 L143.6,93.35 L144.6,93.89 L145.6,94.44 L146.6,94.99 L147.6,95.56 L148.6,96.13 L149.6,96.71 L150.6,97.30 L151.6,97.90 L152.6,98.51 L153.6,99.12 L154.6,99.75 L155.6,100.39 L156.6,101.04 L157.6,101.69 L158.6,102.36 L159.6,103.04 L160.6,103.73 L161.6,104.43 L162.6,105.15 L163.6,105.87 L164.6,106.61 L165.6,107.36 L166.6,108.13 L167.6,108.90 L168.6,109.69 L169.6,110.49 L170.6,111.31 L171.6,112.14 L172.6,112.99 L173.6,113.85 L174.6,114.73 L175.6,115.62 L176.6,116.53 L177.6,117.45 L178.6,118.39 L179.6,119.34 L180.6,120.31 L181.6,121.30 L182.6,122.31 L183.6,123.33 L184.6,124.36 L185.6,125.42 L186.6,126.49 L187.6,127.58 L188.6,128.69 L189.6,129.81 L190.6,130.96 L191.6,132.12 L192.6,133.30 L193.6,134.50 L194.6,135.71 L195.6,136.95 L196.6,138.20 L197.6,139.48 L198.6,140.77 L199.6,142.08 L200.6,143.41 L201.6,144.76 L202.6,146.13 L203.6,147.52 L204.6,148.93 L205.6,150.36 L206.6,151.81 L207.6,153.28 L208.6,154.77 L209.6,156.28 L210.6,157.80 L211.6,159.35 L212.6,160.92 L213.6,162.51 L214.6,164.11 L215.6,165.74 L216.6,167.38 L217.6,169.05 L218.6,170.73 L219.6,172.43 L220.6,174.16 L221.6,175.90 L222.6,177.65 L223.6,179.43 L224.6,181.22 L225.6,183.04 L226.6,184.86 L227.6,186.71 L228.6,188.57 L229.6,190.45 L230.6,192.34 L231.6,194.25 L232.6,196.18 L233.6,198.11 L234.6,200.07 L235.6,202.03 L236.6,204.01 L237.6,206.00 L238.6,208.00 L239.6,210.02 L240.6,212.04 L241.6,214.08 L242.6,216.12 L243.6,218.18 L244.6,220.24 L245.6,222.32 L246.6,224.40 L247.6,226.49 L248.6,228.58 L249.6,230.68 L250.6,232.79 L251.6,234.90 L252.6,237.02 L253.6,239.14 L254.6,241.26 L255.6,243.39 L256.6,245.51 L257.6,247.63 L258.6,249.76 L259.6,251.88 L260.6,253.99 L261.6,256.10 L262.6,258.21 L263.6,260.31 L264.6,262.40 L265.6,264.48 L266.6,266.55 L267.6,268.61 L268.6,270.66 L269.6,272.69 L270.6,274.70 L271.6,276.70 L272.6,278.68 L273.6,280.64 L274.6,282.57 L275.6,284.49 L276.6,286.37 L277.6,288.23 L278.6,290.07 L279.6,291.87 L280.6,293.64 L281.6,295.38 L282.6,297.09 L283.6,298.76 L284.6,300.39 L285.6,301.98 L286.6,303.54 L287.6,305.05 L288.6,306.52 L289.6,307.95 L290.6,309.34 L291.6,310.67 L292.6,311.97 L293.6,313.21 L294.6,314.41 L295.6,315.56 L296.6,316.66 L297.6,317.71 L298.6,318.71 L299.6,319.66 L300.6,320.56 L301.6,321.42 L302.6,322.22 L303.6,322.97 L304.6,323.67 L305.6,324.32 L306.6,324.92 L307.6,325.48 L308.6,325.99 L309.6,326.46 L310.6,326.90 L311.6,327.29 L312.6,327.65 L313.6,327.98 L314.6,328.28 L315.6,328.59 L316.6,328.91 L317.6,329.21 L318.6,329.48 L319.6,329.73 L320.6,329.96 L321.6,330.17 L322.6,330.37 L323.6,330.55 L324.6,330.72 L325.6,330.88 L326.6,331.03 L327.6,331.16 L328.6,331.29 L329.6,331.41 L330.6,331.53 L331.6,331.64 L332.6,331.74 L333.6,331.84 L334.6,331.94 L335.6,331.98 L336.6,332.00 L337.6,332.01 L338.6,332.01 L339.6,332.02 L340.6,332.02 L341.6,332.03 L342.6,332.03 L343.6,332.03 L344.6,332.03 L345.6,332.03 L346.6,332.04 L347.6,332.04 L348.6,332.04 L349.6,332.04 L350.6,332.04 L351.6,332.04 L352.6,332.04 L353.6,332.04 L354.6,332.04 L355.6,332.04 L356.6,332.04 L357.6,332.04 L358.6,332.04 L359.6,332.04 L360.6,332.04 L361.6,332.04 L362.6,332.04 L363.6,332.04 L364.6,332.04 L365.6,332.04 L366.6,331.95 L367.6,331.80 L368.6,331.66 L369.6,331.51 L370.6,331.36 L371.6,331.21 L372.6,331.07 L373.6,330.92 L374.6,330.77 L375.6,330.63 L376.6,330.48 L377.6,330.33 L378.6,330.18 L379.6,330.04 L380.6,329.89 L381.6,329.74 L382.6,329.68 L383.6,329.68 L384.6,329.68 L385.6,329.68 L386.6,329.68 L387.6,329.68 L388.6,329.68 L389.6,329.68 L390.6,329.68 L391.6,329.68 L392.6,329.68 L393.6,329.68 L394.6,329.68 L395.6,329.68 L396.6,329.68 L397.6,329.68 L398.6,329.68 L399.6,329.68 L400.6,329.68 L401.6,329.68 L402.6,329.68 L403.6,329.68 L404.6,329.68 L405.6,329.68 L406.6,329.68 L407.6,329.68 L408.6,329.68 L409.6,329.68 L410.6,329.68 L411.6,329.68 L412.6,329.68 L413.6,329.68 L414.6,329.68 L415.6,329.68 L416.6,329.68 L417.6,329.68 L418.6,329.68 L419.6,329.68 L420.6,329.68 L421.6,329.68 L422.6,329.68 L423.6,329.68 L424.6,329.68 L425.6,329.68 L426.6,329.68 L427.6,329.68 L428.6,329.68 L429.6,329.68 L430.6,329.68 L431.6,329.68 L432.6,329.68 L433.6,329.68 L434.6,329.68 L435.6,329.68 L436.6,329.68 L437.6,329.68 L438.6,329.68 L439.6,329.68 L440.6,329.68 L441.6,329.68 L442.6,329.68 L443.6,329.68 L444.6,329.68 L445.6,329.68 L446.6,329.68 L447.6,329.68 L448.6,329.68 L449.6,329.68 L450.6,329.68 L451.6,329.68 L452.6,329.68 L453.6,329.68 L454.6,329.68 L455.6,329.68 L456.6,329.68 L457.6,329.68 L458.6,329.68 L459.6,329.68 L460.6,329.68 L461.6,329.68 L462.6,329.68 L463.6,329.68 L464.6,329.68 L465.6,329.68 L466.6,329.68 L467.6,329.68 L468.6,329.68 L469.6,329.68 L470.6,329.69 L471.6,329.71 L472.6,329.72 L473.6,329.74 L474.6,329.75 L475.6,329.76 L476.6,329.78 L477.6,329.79 L478.6,329.81 L479.6,329.82 L480.6,329.84 L481.6,329.85 L482.6,329.86 L483.6,329.88 L484.6,329.89 L485.6,329.91 L486.6,329.92 L487.6,329.94 L488.6,329.95 L489.6,329.96 L490.6,329.98 L491.6,329.99 L492.6,330.01 L493.6,330.02 L494.6,330.03 L495.6,330.05 L496.6,330.06 L497.6,330.08 L498.6,330.09 L499.6,330.11 L500.6,330.11 L501.6,330.11 L502.6,330.11 L503.6,330.11 L504.6,330.11 L505.6,330.11 L506.6,330.11 L507.6,330.11 L508.6,330.11 L509.6,330.11 L510.6,330.11 L511.6,330.11 L512.6,330.11 L513.6,330.11 L514.6,330.11 L515.6,330.11 L516.6,330.11 L517.6,330.11 L518.6,330.11 L519.6,330.11 L520.6,330.11 L521.4,330.11" stroke="#00FF00"/>
<path d="M39.6,66.48 L40.6,66.55 L41.6,66.61 L42.6,66.68 L43.6,66.76 L44.6,66.83 L45.6,66.91 L46.6,66.99 L47.6,67.07 L48.6,67.15 L49.6,67.24 L50.6,67.32 L51.6,67.41 L52.6,67.51 L53.6,67.60 L54.6,67.70 L55.6,67.80 L56.6,67.91 L57.6,68.01 L58.6,68.12 L59.6,68.24 L60.6,68.35 L61.6,68.47 L62.6,68.59 L63.6,68.72 L64.6,68.85 L65.6,68.98 L66.6,69.11 L67.6,69.25 L68.6,69.39 L69.6,69.54 L70.6,69.69 L71.6,69.84 L72.6,70.00 L73.6,70.16 L74.6,70.33 L75.6,70.50 L76.6,70.67 L77.6,70.85 L78.6,71.03 L79.6,71.21 L80.6,71.40 L81.6,71.60 L82.6,71.80 L83.6,72.00 L84.6,72.21 L85.6,72.42 L86.6,72.64 L87.6,72.86 L88.6,73.09 L89.6,73.32 L90.6,73.55 L91.6,73.80 L92.6,74.04 L93.6,74.29 L94.6,74.55 L95.6,74.81 L96.6,75.07 L97.6,75.34 L98.6,75.62 L99.6,75.90 L100.6,76.18 L101.6,76.47 L102.6,76.76 L103.6,77.06 L104.6,77.37 L105.6,77.67 L106.6,77.99 L107.6,78.30 L108.6,78.63 L109.6,78.95 L110.6,79.28 L111.6,79.62 L112.6,79.96 L113.6,80.31 L114.6,80.66 L115.6,81.02 L116.6,81.38 L117.6,81.75 L118.6,82.12 L119.6,82.49 L120.6,82.88 L121.6,83.27 L122.6,83.66 L123.6,84.06 L124.6,84.46 L125.6,84.87 L126.6,85.29 L127.6,85.71 L128.6,86.14 L129.6,86.58 L130.6,87.02 L131.6,87.46 L132.6,87.92 L133.6,88.38 L134.6,88.84 L135.6,89.31 L136.6,89.79 L137.6,90.28 L138.6,90.77 L139.6,91.28 L140.6,91.78 L141.6,92.30 L142.6,92.82 L143.6,93.35 L144.6,93.89 L145.6,94.44 L146.6,94.99 L147.6,95.56 L148.6,96.13 L149.6,96.71 L150.6,97.30 L151.6,97.90 L152.6,98.51 L153.6,99.12 L154.6,99.75 L155.6,100.39 L156.6,101.04 L157.6,101.69 L158.6,102.36 L159.6,103.04 L160.6,103.73 L161.6,104.43 L162.6,105.15 L163.6,105.87 L164.6,106.61 L165.6,107.36 L166.6,108.13 L167.6,108.90 L168.6,109.69 L169.6,110.49 L170.6,111.31 L171.6,112.14 L172.6,112.99 L173.6,113.85 L174.6,114.73 L175.6,115.62 L176.6,116.53 L177.6,117.45 L178.6,118.39 L179.6,119.34 L180.6,120.31 L181.6,121.30 L182.6,122.31 L183.6,123.33 L184.6,124.36 L185.6,125.42 L186.6,126.49 L187.6,127.58 L188.6,128.69 L189.6,129.81 L190.6,130.96 L191.6,132.12 L192.6,133.30 L193.6,134.50 L194.6,135.71 L195.6,136.95 L196.6,138.20 L197.6,139.48 L198.6,140.77 L199.6,142.08 L200.6,143.41 L201.6,144.76 L202.6,146.13 L203.6,147.52 L204.6,148.93 L205.6,150.36 L206.6,151.81 L207.6,153.28 L208.6,154.77 L209.6,156.28 L210.6,157.80 L211.6,159.35 L212.6,160.92 L213.6,162.51 L214.6,164.11 L215.6,165.74 L216.6,167.38 L217.6,169.05 L218.6,170.73 L219.6,172.43 L220.6,174.16 L221.6,175.90 L222.6,177.65 L223.6,179.43 L224.6,181.22 L225.6,183.04 L226.6,184.86 L227.6,186.71 L228.6,188.57 L229.6,190.45 L230.6,192.34 L231.6,194.25 L232.6,196.18 L233.6,198.11 L234.6,200.07 L235.6,202.03 L236.6,204.01 L237.6,206.00 L238.6,208.00 L239.6,210.02 L240.6,212.04 L241.6,214.08 L242.6,216.12 L243.6,218.18 L244.6,220.24 L245.6,222.32 L246.6,224.40 L247.6,226.49 L248.6,228.58 L249.6,230.68 L250.6,232.79 L251.6,234.90 L252.6,237.02 L253.6,239.14 L254.6,241.26 L255.6,243.39 L256.6,245.51 L257.6,247.63 L258.6,249.76 L259.6,251.88 L260.6,253.99 L261.6,256.10 L262.6,258.21 L263.6,260.31 L264.6,262.40 L265.6,264.48 L266.6,266.55 L267.6,268.61 L268.6,270.66 L269.6,272.69 L270.6,274.70 L271.6,276.70 L272.6,278.68 L273.6,280.64 L274.6,282.57 L275.6,284.49 L276.6,286.37 L277.6,288.23 L278.6,290.07 L279.6,291.87 L280.6,293.64 L281.6,295.38 L282.6,297.09 L283.6,298.76 L284.6,300.39 L285.6,301.98 L286.6,303.54 L287.6,305.05 L288.6,306.52 L289.6,307.95 L290.6,309.34 L291.6,310.67 L292.6,311.97 L293.6,313.21 L294.6,314.41 L295.6,315.56 L296.6,316.66 L297.6,317.71 L298.6,318.71 L299.6,319.66 L300.6,320.56 L301.6,321.42 L302.6,322.22 L303.6,322.97 L304.6,323.67 L305.6,324.32 L306.6,324.92 L307.6,325.48 L308.6,325.99 L309.6,326.46 L310.6,326.90 L311.6,327.29 L312.6,327.65 L313.6,327.98 L314.6,328.28 L315.6,328.55 L316.6,328.79 L317.6,329.00 L318.6,329.19 L319.6,329.36 L320.6,329.51 L321.6,329.65 L322.6,329.76 L323.6,329.86 L324.6,329.95 L325.6,330.03 L326.6,330.10 L327.6,330.15 L328.6,330.20 L329.6,330.24 L330.6,330.28 L331.6,330.30 L332.6,330.33 L333.6,330.35 L334.6,330.37 L335.6,330.38 L336.6,330.39 L337.6,330.40 L338.6,330.41 L339.6,330.41 L340.6,330.42 L341.6,330.42 L342.6,330.42 L343.6,330.43 L344.6,330.43 L345.6,330.43 L346.6,330.43 L347.6,330.43 L348.6,330.43 L349.6,330.43 L350.6,330.43 L351.6,330.43 L352.6,330.43 L353.6,330.43 L354.6,330.43 L355.6,330.43 L356.6,330.43 L357.6,330.43 L358.6,330.43 L359.6,330.43 L360.6,330.43 L361.6,330.43 L362.6,330.43 L363.6,330.43 L364.6,330.43 L365.6,330.43 L366.6,330.43 L367.6,330.43 L368.6,330.43 L369.6,330.43 L370.6,330.43 L371.6,330.43 L372.6,330.43 L373.6,330.43 L374.6,330.43 L375.6,330.43 L376.6,330.43 L377.6,330.43 L378.6,330.43 L379.6,330.43 L380.6,330.43 L381.6,330.43 L382.6,330.43 L383.6,330.43 L384.6,330.43 L385.6,330.43 L386.6,330.43 L387.6,330.43 L388.6,330.43 L389.6,330.43 L390.6,330.43 L391.6,330.43 L392.6,330.43 L393.6,330.43 L394.6,330.43 L395.6,330.43 L396.6,330.43 L397.6,330.43 L398.6,330.43 L399.6,330.43 L400.6,330.43 L401.6,330.43 L402.6,330.43 L403.6,330.43 L404.6,330.43 L405.6,330.43 L406.6,330.43 L407.6,330.43 L408.6,330.43 L409.6,330.43 L410.6,330.43 L411.6,330.43 L412.6,330.43 L413.6,330.43 L414.6,330.43 L415.6,330.43 L416.6,330.43 L417.6,330.43 L418.6,330.43 L419.6,330.43 L420.6,330.43 L421.6,330.43 L422.6,330.43 L423.6,330.43 L424.6,330.43 L425.6,330.43 L426.6,330.43 L427.6,330.43 L428.6,330.43 L429.6,330.43 L430.6,330.43 L431.6,330.43 L432.6,330.43 L433.6,330.43 L434.6,330.43 L435.6,330.43 L436.6,330.43 L437.6,330.43 L438.6,330.43 L439.6,330.43 L440.6,330.43 L441.6,330.43 L442.6,330.43 L443.6,330.43 L444.6,330.43 L445.6,330.43 L446.6,330.43 L447.6,330.43 L448.6,330.43 L449.6,330.43 L450.6,330.43 L451.6,330.43 L452.6,330.43 L453.6,330.43 L454.6,330.43 L455.6,330.43 L456.6,330.43 L457.6,330.43 L458.6,330.43 L459.6,330.43 L460.6,330.43 L461.6,330.43 L462.6,330.43 L463.6,330.43 L464.6,330.43 L465.6,330.43 L466.6,330.43 L467.6,330.43 L468.6,330.43 L469.6,330.43 L470.6,330.43 L471.6,330.43 L472.6,330.43 L473.6,330.43 L474.6,330.43 L475.6,330.43 L476.6,330.43 L477.6,330.43 L478.6,330.43 L479.6,330.43 L480.6,330.43 L481.6,330.43 L482.6,330.43 L483.6,330.43 L484.6,330.43 L485.6,330.43 L486.6,330.43 L487.6,330.43 L488.6,330.43 L489.6,330.43 L490.6,330.43 L491.6,330.43 L492.6,330.43 L493.6,330.43 L494.6,330.43 L495.6,330.43 L496.6,330.43 L497.6,330.43 L498.6,330.43 L499.6,330.43 L500.6,330.43 L501.6,330.43 L502.6,330.43 L503.6,330.43 L504.6,330.43 L505.6,330.43 L506.6,330.43 L507.6,330.43 L508.6,330.43 L509.6,330.43 L510.6,330.43 L511.6,330.43 L512.6,330.43 L513.6,330.43 L514.6,330.43 L515.6,330.43 L516.6,330.43 L517.6,330.43 L518.6,330.43 L519.6,330.43 L520.6,330.43 L521.4,330.43" stroke="#808080"/>
</g>
<g stroke="#1c1c1c" stroke-width="1.45">
<line x1="39.2" y1="49" x2="39.2" y2="347.5"/>
<line x1="38.5" y1="331.45" x2="521.6" y2="331.45"/>
<line x1="39.2" y1="63.85" x2="44.9" y2="63.85" stroke-width="1.15"/>
<line x1="39.2" y1="117.37" x2="44.9" y2="117.37" stroke-width="1.15"/>
<line x1="39.2" y1="170.89" x2="44.9" y2="170.89" stroke-width="1.15"/>
<line x1="39.2" y1="224.41" x2="44.9" y2="224.41" stroke-width="1.15"/>
<line x1="39.2" y1="277.93" x2="44.9" y2="277.93" stroke-width="1.15"/>
<line x1="92.50" y1="331.45" x2="92.50" y2="325.6" stroke-width="1.15"/>
<line x1="261.33" y1="331.45" x2="261.33" y2="325.6" stroke-width="1.15"/>
<line x1="334.04" y1="331.45" x2="334.04" y2="325.6" stroke-width="1.15"/>
<line x1="502.87" y1="331.45" x2="502.87" y2="325.6" stroke-width="1.15"/>
</g>
<text x="33.1" y="68.00" text-anchor="end">1.</text>
<text x="33.1" y="122.17" text-anchor="end" textLength="24.3" lengthAdjust="spacingAndGlyphs">0.8</text>
<text x="33.1" y="175.69" text-anchor="end" textLength="24.3" lengthAdjust="spacingAndGlyphs">0.6</text>
<text x="33.1" y="229.21" text-anchor="end" textLength="24.3" lengthAdjust="spacingAndGlyphs">0.4</text>
<text x="33.1" y="282.73" text-anchor="end" textLength="24.3" lengthAdjust="spacingAndGlyphs">0.2</text>
<text x="92.50" y="353.5" text-anchor="middle">1</text>
<text x="261.33" y="353.5" text-anchor="middle">5</text>
<text x="334.04" y="353.5" text-anchor="middle">10</text>
<text x="502.87" y="353.5" text-anchor="middle">50</text>
<text x="535.8" y="335.9" class="it" style="font-size:21.5px">t</text>

<line x1="8.4" y1="9.95" x2="69.8" y2="9.95" stroke="#4a4a4a" stroke-width="1.6"/>
<g fill="none" stroke="#111" stroke-width="1.2" stroke-linecap="round" stroke-linejoin="miter">
<path d="M15.1,17.2 L11.2,26.1 L15.1,35.0"/>
<path d="M62.6,17.2 L66.6,26.1 L62.6,35.0"/>
<path d="M45.9,16.8 C41.2,21 41.2,31 45.9,35.2" stroke-width="1.35"/>
<path d="M55.6,16.8 C60.3,21 60.3,31 55.6,35.2" stroke-width="1.35"/>
<path d="M23.7,16.2 L26.6,13.6 L29.1,16.0" stroke-width="1.25" stroke-linejoin="round"/>
</g>
<g fill="none" stroke="#111" stroke-linecap="round">
<ellipse cx="24.0" cy="23.6" rx="5.25" ry="6.55" transform="rotate(25 24.0 23.6)" stroke-width="1.25"/>
<path d="M24.46,29.74 L23.75,29.89 L23.05,29.94 L22.36,29.88 L21.69,29.72 L21.07,29.46 L20.50,29.10 L19.98,28.65 L19.53,28.11 L19.15,27.50 L18.86,26.83 L18.65,26.10 L18.53,25.33 L18.50,24.53 L18.56,23.71 L18.71,22.90 L18.95,22.09 L19.27,21.31 L19.68,20.57 L20.15,19.88 L20.69,19.25 L21.28,18.70 L21.92,18.22 L22.59,17.83" stroke-width="2.1"/>
<path d="M22.2,21.9 C22.3,20.4 23.4,18.6 25.4,17.4" stroke-width="1.3"/>
</g>
<text x="32.6" y="25.1" class="it" style="font-size:12.9px">k</text>
<text x="47.3" y="30.9" class="it" style="font-size:21.8px">t</text>

<g><line x1="82.6" y1="388.85" x2="114.6" y2="388.85" stroke="#00A0A4" stroke-width="2.9"/>
<line x1="179.85" y1="388.85" x2="211.85" y2="388.85" stroke="#FF7600" stroke-width="2.9"/>
<line x1="277.1" y1="388.85" x2="309.1" y2="388.85" stroke="#7D007A" stroke-width="2.9"/>
<line x1="374.35" y1="388.85" x2="406.35" y2="388.85" stroke="#A0A300" stroke-width="2.9"/>
<line x1="82.6" y1="422.3" x2="114.6" y2="422.3" stroke="#FF0000" stroke-width="2.9"/>
<line x1="179.85" y1="422.3" x2="211.85" y2="422.3" stroke="#0000FF" stroke-width="2.9"/>
<line x1="277.1" y1="422.3" x2="309.1" y2="422.3" stroke="#00A300" stroke-width="2.9"/>
<line x1="374.35" y1="422.3" x2="406.35" y2="422.3" stroke="#000000" stroke-width="2.9"/>
<line x1="82.6" y1="455.55" x2="114.6" y2="455.55" stroke="#00FFFF" stroke-width="2.9"/>
<line x1="179.85" y1="455.55" x2="211.85" y2="455.55" stroke="#FFDFC4" stroke-width="2.9"/>
<line x1="277.1" y1="455.55" x2="309.1" y2="455.55" stroke="#A050A0" stroke-width="2.9"/>
<line x1="374.35" y1="455.55" x2="406.35" y2="455.55" stroke="#FFFF00" stroke-width="2.9"/>
<line x1="82.6" y1="488.6" x2="114.6" y2="488.6" stroke="#FF00FF" stroke-width="2.9"/>
<line x1="179.85" y1="488.6" x2="211.85" y2="488.6" stroke="#DAEAFA" stroke-width="2.9"/>
<line x1="277.1" y1="488.6" x2="309.1" y2="488.6" stroke="#00FF00" stroke-width="2.9"/>
<line x1="374.35" y1="488.6" x2="406.35" y2="488.6" stroke="#808080" stroke-width="2.9"/></g>
<g stroke="#222" stroke-width="1.1"><line x1="141.30" y1="387.80" x2="154.00" y2="387.80"/>
<line x1="141.30" y1="391.40" x2="154.00" y2="391.40"/>
<line x1="238.55" y1="387.80" x2="251.25" y2="387.80"/>
<line x1="238.55" y1="391.40" x2="251.25" y2="391.40"/>
<line x1="335.80" y1="387.80" x2="348.50" y2="387.80"/>
<line x1="335.80" y1="391.40" x2="348.50" y2="391.40"/>
<line x1="433.05" y1="387.80" x2="445.75" y2="387.80"/>
<line x1="433.05" y1="391.40" x2="445.75" y2="391.40"/>
<line x1="141.30" y1="421.25" x2="154.00" y2="421.25"/>
<line x1="141.30" y1="424.85" x2="154.00" y2="424.85"/>
<line x1="238.55" y1="421.25" x2="251.25" y2="421.25"/>
<line x1="238.55" y1="424.85" x2="251.25" y2="424.85"/>
<line x1="335.80" y1="421.25" x2="348.50" y2="421.25"/>
<line x1="335.80" y1="424.85" x2="348.50" y2="424.85"/>
<line x1="433.05" y1="421.25" x2="445.75" y2="421.25"/>
<line x1="433.05" y1="424.85" x2="445.75" y2="424.85"/>
<line x1="141.30" y1="454.50" x2="154.00" y2="454.50"/>
<line x1="141.30" y1="458.10" x2="154.00" y2="458.10"/>
<line x1="238.55" y1="454.50" x2="251.25" y2="454.50"/>
<line x1="238.55" y1="458.10" x2="251.25" y2="458.10"/>
<line x1="331.10" y1="454.50" x2="344.00" y2="454.50"/>
<line x1="331.10" y1="458.10" x2="344.00" y2="458.10"/>
<line x1="428.35" y1="454.50" x2="441.25" y2="454.50"/>
<line x1="428.35" y1="458.10" x2="441.25" y2="458.10"/>
<line x1="136.60" y1="487.55" x2="149.50" y2="487.55"/>
<line x1="136.60" y1="491.15" x2="149.50" y2="491.15"/>
<line x1="233.85" y1="487.55" x2="246.75" y2="487.55"/>
<line x1="233.85" y1="491.15" x2="246.75" y2="491.15"/>
<line x1="331.10" y1="487.55" x2="344.00" y2="487.55"/>
<line x1="331.10" y1="491.15" x2="344.00" y2="491.15"/>
<line x1="428.35" y1="487.55" x2="441.25" y2="487.55"/>
<line x1="428.35" y1="491.15" x2="441.25" y2="491.15"/></g>
<text x="125.20" y="394.50" class="it">k</text>
<text x="164.85" y="394.50" text-anchor="middle">0</text>
<text x="222.45" y="394.50" class="it">k</text>
<text x="262.10" y="394.50" text-anchor="middle">1</text>
<text x="319.70" y="394.50" class="it">k</text>
<text x="359.35" y="394.50" text-anchor="middle">2</text>
<text x="416.95" y="394.50" class="it">k</text>
<text x="456.60" y="394.50" text-anchor="middle">3</text>
<text x="125.20" y="427.95" class="it">k</text>
<text x="164.85" y="427.95" text-anchor="middle">4</text>
<text x="222.45" y="427.95" class="it">k</text>
<text x="262.10" y="427.95" text-anchor="middle">5</text>
<text x="319.70" y="427.95" class="it">k</text>
<text x="359.35" y="427.95" text-anchor="middle">6</text>
<text x="416.95" y="427.95" class="it">k</text>
<text x="456.60" y="427.95" text-anchor="middle">7</text>
<text x="125.20" y="461.20" class="it">k</text>
<text x="164.85" y="461.20" text-anchor="middle">8</text>
<text x="222.45" y="461.20" class="it">k</text>
<text x="262.10" y="461.20" text-anchor="middle">9</text>
<text x="314.80" y="461.20" class="it">k</text>
<text x="359.60" y="461.20" text-anchor="middle">10</text>
<text x="412.05" y="461.20" class="it">k</text>
<text x="456.85" y="461.20" text-anchor="middle">11</text>
<text x="120.30" y="494.25" class="it">k</text>
<text x="165.10" y="494.25" text-anchor="middle">12</text>
<text x="217.55" y="494.25" class="it">k</text>
<text x="262.35" y="494.25" text-anchor="middle">13</text>
<text x="314.80" y="494.25" class="it">k</text>
<text x="359.60" y="494.25" text-anchor="middle">14</text>
<text x="412.05" y="494.25" class="it">k</text>
<text x="456.85" y="494.25" text-anchor="middle">15</text>
</svg>
</body></html>
